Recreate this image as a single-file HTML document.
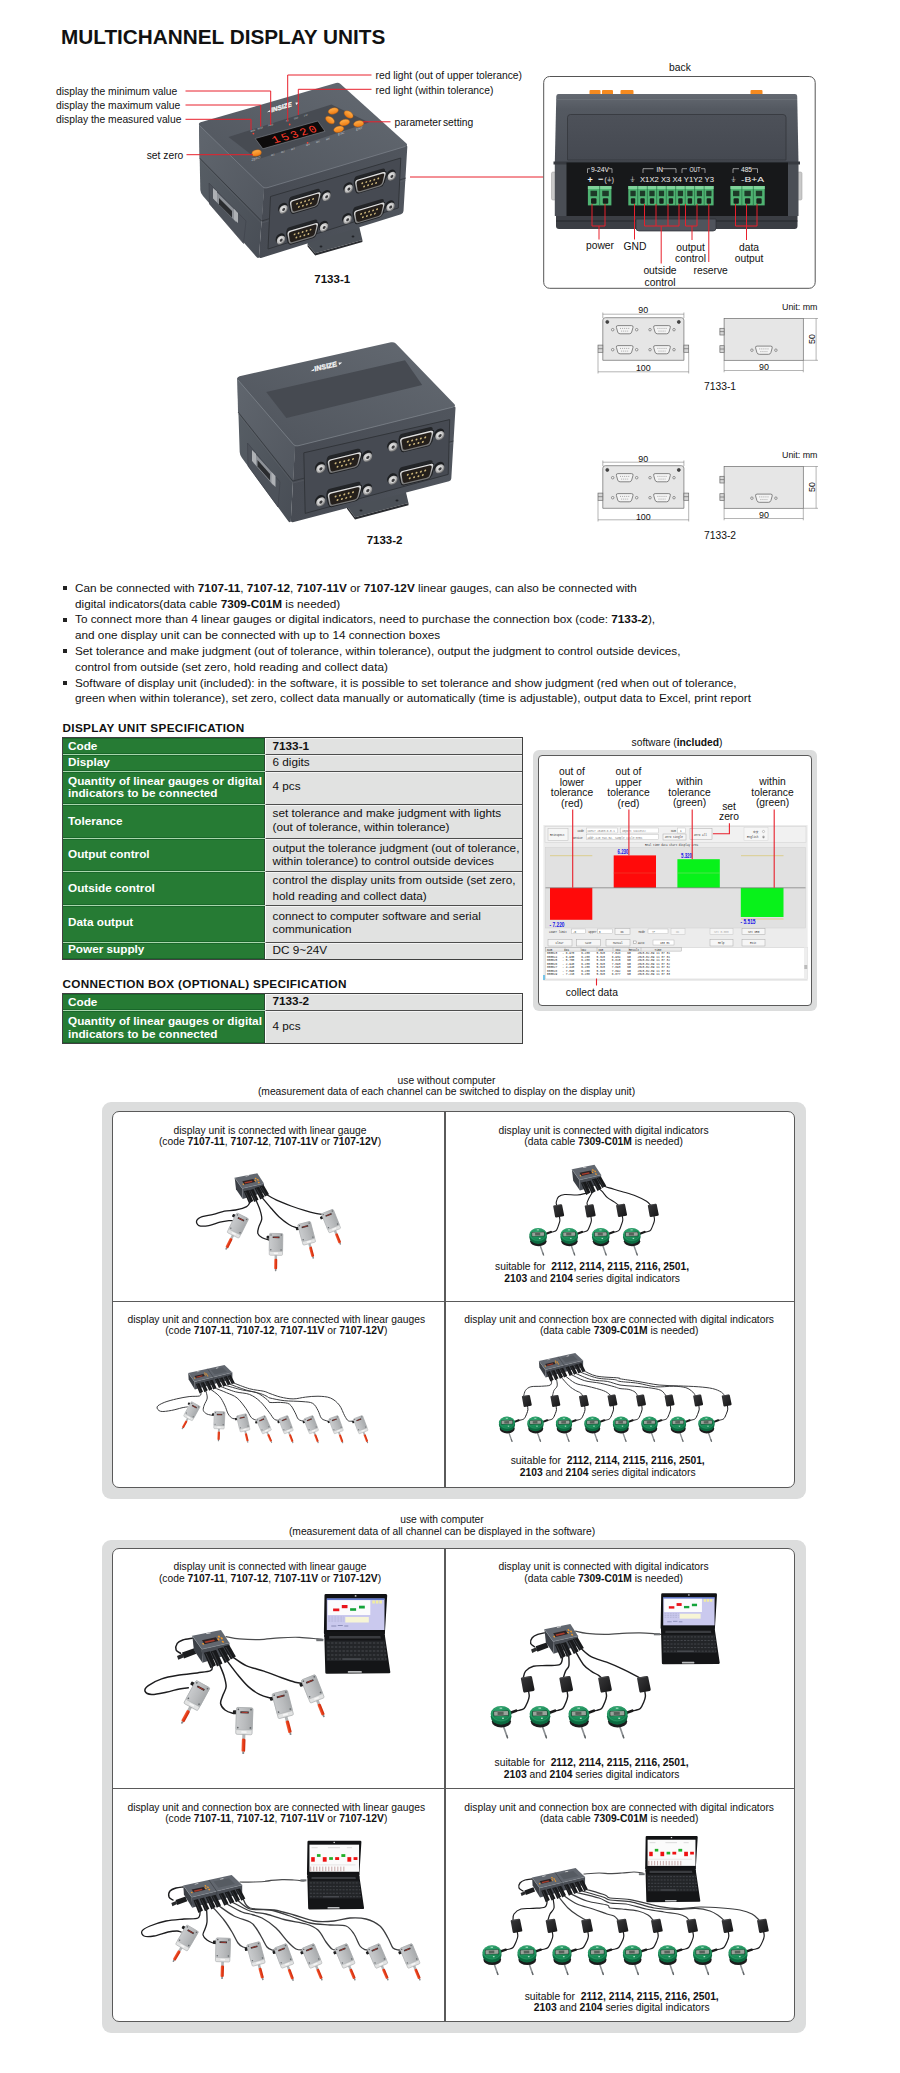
<!DOCTYPE html>
<html lang="en">
<head>
<meta charset="utf-8">
<title>Multichannel Display Units</title>
<style>
html,body{margin:0;padding:0;background:#fff;}
body{width:900px;height:2073px;position:relative;overflow:hidden;font-family:"Liberation Sans",sans-serif;color:#111;}
.abs{position:absolute;white-space:nowrap;}
h1{position:absolute;left:61px;top:24.5px;margin:0;font-size:20.75px;line-height:24px;font-weight:700;color:#111;white-space:nowrap;}
.lbl{position:absolute;white-space:nowrap;font-size:10.3px;line-height:12px;color:#111;}
.lbl.c{text-align:center;transform:translateX(-50%);}
.lbl.r{text-align:right;transform:translateX(-100%);}
b{font-weight:700;}
ul.feat{position:absolute;left:75px;top:579.8px;margin:0;padding:0;list-style:none;font-size:11.75px;line-height:15.8px;color:#111;white-space:nowrap;}
ul.feat li{position:relative;margin:0;padding:0;height:31.6px;}
ul.feat li:before{content:"";position:absolute;left:-12px;top:6.5px;width:4px;height:4px;background:#222;}
h2{position:absolute;left:62.5px;margin:0;font-size:11.75px;line-height:14px;font-weight:700;letter-spacing:.33px;color:#111;white-space:nowrap;}
table.spec{position:absolute;left:62px;width:461px;border-collapse:separate;border-spacing:0;border:1px solid #404040;font-size:11.75px;line-height:13.2px;color:#111;table-layout:fixed;}
table.spec th{width:197px;background:#267b34;color:#fff;font-weight:700;text-align:left;padding:0 0 0 5px;border-top:1px solid #a9d6ad;vertical-align:middle;white-space:nowrap;box-shadow:inset -0.8px 0 0 #2c3d31,inset 0 1px 0 #19672a,inset 0 -1px 0 #19672a;}
table.spec td{background:#e1e2e1;padding:0 0 0 6.5px;border-top:1px solid #4d4d4d;border-left:1.5px solid #fff;vertical-align:middle;white-space:nowrap;box-shadow:inset 0 1px 0 #f4f4f4;}
table.spec tr:first-child th,table.spec tr:first-child td{border-top:none;}
.frame{position:absolute;background:#dcdddd;border-radius:9px;}
.frame .inner{position:absolute;background:#fff;border:1.2px solid #5a5a5a;border-radius:7px;box-sizing:border-box;}
.hl{position:absolute;background:#5a5a5a;height:1.2px;}
.vl{position:absolute;background:#5a5a5a;width:1.2px;}
svg{position:absolute;overflow:visible;}
</style>
</head>
<body>
<h1>MULTICHANNEL DISPLAY UNITS</h1>
<svg width="0" height="0" style="left:0;top:0">
<defs>
<linearGradient id="gSil" x1="0" y1="0" x2="0" y2="1"><stop offset="0" stop-color="#e6e6e6"/><stop offset=".5" stop-color="#a9a9a9"/><stop offset="1" stop-color="#6f6f6f"/></linearGradient>
<radialGradient id="gScrew" cx=".4" cy=".35" r=".7"><stop offset="0" stop-color="#f4f4f4"/><stop offset=".6" stop-color="#b5b5b5"/><stop offset="1" stop-color="#6a6a6a"/></radialGradient>
<linearGradient id="gTop" x1="0" y1="1" x2="1" y2="0"><stop offset="0" stop-color="#4f545c"/><stop offset="1" stop-color="#646a72"/></linearGradient>
<linearGradient id="gLeft" x1="0" y1="0" x2="1" y2="1"><stop offset="0" stop-color="#42464d"/><stop offset="1" stop-color="#2e3136"/></linearGradient>
<linearGradient id="gFront" x1="0" y1="0" x2="1" y2="0"><stop offset="0" stop-color="#474b53"/><stop offset="1" stop-color="#50555d"/></linearGradient>
<linearGradient id="gOr" x1="0" y1="0" x2="0" y2="1"><stop offset="0" stop-color="#ffb04a"/><stop offset="1" stop-color="#ee7a12"/></linearGradient>
<!-- DB9 male connector with screws, local coords centred -->
<g id="db9">
<circle cx="-22.300" cy="-2" r="4.700" fill="#1e2023"/><circle cx="20.700" cy="-2" r="4.700" fill="#1e2023"/>
<path d="M-22.300,-6.700 L-21.500,-4.200 L-21.500,4.200 L-25.500,1 Z M20.700,-6.700 L21.500,-4.200 L21.500,4.200 L17,1 Z" fill="#1e2023"/>
<circle cx="-21.500" cy="0" r="4.200" fill="url(#gScrew)"/><circle cx="-21.500" cy="0" r="2.500" fill="#d9d9d9"/><circle cx="-21.300" cy=".2" r="1.500" fill="#3b3b3d"/>
<circle cx="21.500" cy="0" r="4.200" fill="url(#gScrew)"/><circle cx="21.500" cy="0" r="2.500" fill="#d9d9d9"/><circle cx="21.700" cy=".2" r="1.500" fill="#3b3b3d"/>
<path d="M-13.800,-10.600 L11.400,-10.600 Q14.900,-10.600 14.400,-7.300 L16.400,-3.600 L14.800,4.500 L-14.600,4.500 L-16.600,-3.600 Q-17.200,-10.600 -13.800,-10.600 Z" fill="#232528"/>
<path d="M-12.800,-7.600 L12.800,-7.600 Q16.700,-7.600 16,-4 L14.300,4.400 Q13.700,7.600 10.600,7.600 L-10.600,7.600 Q-13.700,7.600 -14.300,4.400 L-16,-4 Q-16.700,-7.600 -12.800,-7.600 Z" fill="#1f2124"/>
<path d="M-12.500,-6.800 L12.500,-6.800 Q15.800,-6.800 15.200,-3.600 L13.600,4 Q13,6.800 10.200,6.800 L-10.200,6.800 Q-13,6.800 -13.600,4 L-15.200,-3.600 Q-15.800,-6.800 -12.500,-6.800 Z" fill="url(#gSil)"/>
<path d="M-11.700,-5.500 L11.700,-5.500 Q14.300,-5.500 13.800,-3.200 L12.400,3.400 Q11.900,5.500 9.700,5.500 L-9.700,5.500 Q-11.900,5.500 -12.400,3.400 L-13.800,-3.200 Q-14.300,-5.500 -11.700,-5.500 Z" fill="#241f1b"/>
<g fill="#cdb77c"><circle cx="-8" cy="-1.700" r=".95"/><circle cx="-4" cy="-1.700" r=".95"/><circle cx="0" cy="-1.700" r=".95"/><circle cx="4" cy="-1.700" r=".95"/><circle cx="8" cy="-1.700" r=".95"/><circle cx="-6" cy="2.100" r=".95"/><circle cx="-2" cy="2.100" r=".95"/><circle cx="2" cy="2.100" r=".95"/><circle cx="6" cy="2.100" r=".95"/></g>
</g>
</defs>
</svg>
<!-- 7133-1 product illustration -->
<svg width="540" height="320" viewBox="0 0 540 320" style="left:0;top:0">
<defs><linearGradient id="gLeftL" x1="0" y1="0" x2="1" y2="1"><stop offset="0" stop-color="#596067"/><stop offset="1" stop-color="#484d55"/></linearGradient><linearGradient id="gLeftU" x1="0" y1="0" x2="1" y2="1"><stop offset="0" stop-color="#60666e"/><stop offset="1" stop-color="#52575f"/></linearGradient></defs>
<!-- shadow -->
<!-- mounting tab -->
<path d="M307.600,238 L358.600,224 L362.400,240 L315.200,253.300 L307.600,244.400 Z" fill="#4b5057"/>
<path d="M307.600,244.400 L315.200,253.300 L362.400,240 L362.400,242 L315.200,255.400 L307.600,246.400 Z" fill="#2a2c30"/>
<ellipse cx="321" cy="246.500" rx="1.400" ry=".9" fill="#222428"/><ellipse cx="353" cy="236.500" rx="1.400" ry=".9" fill="#222428"/>
<!-- left face -->
<path d="M199,124 L264,187.500 L259,257.500 Q258,258.500 256.500,257 L203,196 Q200.500,193 200.300,190 Z" fill="url(#gLeftL)"/>
<path d="M209,183 L246,221 L243.500,243.500 L209.500,204 Z" fill="#4d525a" stroke="#3e4249" stroke-width=".6"/>
<path d="M199,123.500 L264,187.500 L261.600,221 L199.600,158 Z" fill="url(#gLeftU)"/>
<!-- front face -->
<path d="M264,187.500 L406,145 Q407.500,145.500 407.300,147 L403.500,211 Q403.300,213.500 401,214.300 L261,258 Q259,258.300 259,256.500 Z" fill="url(#gFront)"/>
<!-- seam lines -->
<path d="M199.500,158 L261.500,221 L406,178" fill="none" stroke="#2c2f34" stroke-width=".9" opacity=".75"/>
<path d="M199.800,160 L261.400,223 L406,180" fill="none" stroke="#6a6f77" stroke-width=".6" opacity=".5"/>
<!-- top face -->
<path d="M200.600,122.300 L336,83 Q338.500,82.300 340.500,84 L406.500,143.500 Q408,145.500 405.500,146.400 L267,187.800 Q264.500,188.500 262.500,186.700 L199.300,125.300 Q198,123.200 200.600,122.300 Z" fill="url(#gTop)"/>
<path d="M199.300,125.300 L262.500,186.700 Q264.500,188.500 267,187.800 L405.500,146.400" fill="none" stroke="#7d838b" stroke-width="1" opacity=".7"/>
<!-- top inset panel -->
<path d="M228.500,137 L331.500,104.500 L369,122.500 L257.500,159.500 Z" fill="#474b52"/>
<!-- LED window -->
<path d="M255.200,138.500 L317.800,121 L325,131.300 L262.800,148.800 Z" fill="#0d0b0b" stroke="#777b82" stroke-width=".7"/>
<text transform="matrix(1,-0.28,0.5,0.82,274.300,143.600)" font-family="Liberation Mono,monospace" font-weight="400" font-size="11.500" letter-spacing="2.300" fill="#ff3a2a">15320</text>
<!-- logo -->
<text transform="matrix(1,-0.3,0.2,0.95,271.500,112.300)" font-family="Liberation Sans,sans-serif" font-style="italic" font-weight="700" font-size="6.400" fill="#f2f2f2" stroke="#f2f2f2" stroke-width=".35">INSIZE</text>
<path d="M267,112.300 l3.400,-2.600 l0,2 z M295.500,102.400 l3.600,.2 l-3,2.300 z" fill="#f2f2f2"/>
<!-- tiny labels -->
<g font-family="Liberation Sans,sans-serif" font-size="2.600" fill="#c9ccd1">
<text transform="matrix(1,-0.3,0,1,250.500,132.300)">MIN</text><text transform="matrix(1,-0.3,0,1,257.500,129.800)">MAX</text><text transform="matrix(1,-0.3,0,1,268,126.600)">ABS</text>
<text transform="matrix(1,-0.3,0,1,286,122)">HI</text><text transform="matrix(1,-0.3,0,1,294,119.500)">GO</text><text transform="matrix(1,-0.3,0,1,304,116.700)">LO</text>
<text transform="matrix(1,-0.3,0,1,271,156.200)">M1</text><text transform="matrix(1,-0.3,0,1,281,153.300)">M2</text><text transform="matrix(1,-0.3,0,1,291,150.400)">M3</text>
<text transform="matrix(1,-0.3,0,1,306,146.200)">M4</text><text transform="matrix(1,-0.3,0,1,316,143.300)">M5</text><text transform="matrix(1,-0.3,0,1,326,140.500)">M6</text>
<text transform="matrix(1,-0.3,0,1,251.500,161)" font-size="3.200">ZERO</text><text transform="matrix(1,-0.3,0,1,338,135.500)" font-size="3.200">ESC</text><text transform="matrix(1,-0.3,0,1,356,130.700)" font-size="3.200">ENT</text>
</g>
<circle cx="253.400" cy="133.600" r=".9" fill="#ff4433"/><circle cx="289.700" cy="124.500" r=".9" fill="#ff4433"/><circle cx="307.600" cy="142.800" r=".9" fill="#ff4433"/>
<!-- orange keys -->
<g fill="url(#gOr)" stroke="#b5570a" stroke-width=".4">
<ellipse cx="333.300" cy="111" rx="5.200" ry="3.100" transform="rotate(-14 333.300 111)"/>
<ellipse cx="348.600" cy="114.500" rx="5" ry="3.100" transform="rotate(32 348.600 114.500)"/>
<ellipse cx="330" cy="120" rx="5" ry="3.100" transform="rotate(36 330 120)"/>
<ellipse cx="344.600" cy="122.500" rx="5.200" ry="3.100" transform="rotate(-14 344.600 122.500)"/>
<ellipse cx="358.700" cy="123.800" rx="5.200" ry="3.100" transform="rotate(-10 358.700 123.800)"/>
<ellipse cx="338.800" cy="129.300" rx="5.200" ry="3.100" transform="rotate(-14 338.800 129.300)"/>
<ellipse cx="256.600" cy="153" rx="4.800" ry="3.100" transform="rotate(-14 256.600 153)"/>
</g>
<!-- front inset panel -->
<path d="M270.500,196.500 L400.800,158 L398.300,208 L268,249 Z" fill="#464a52" stroke="#2f3237" stroke-width=".9"/>
<!-- side connector (left face) -->
<path d="M214.500,190 L236,211 L236,222 L214.500,200 Z" fill="#8e9298"/>
<path d="M219,198 L232,211 L232,217.500 L219,204.500 Z" fill="#2a2c2f"/>
<path d="M213,188 L217,191.500 L217,202 L213,198.500 Z M234,209 L238,213 L238,223 L234,219.500 Z" fill="#aeb1b5"/>
<!-- DB9 connectors -->
<use href="#db9" transform="matrix(1,-0.295,-0.05,1,305,203)"/>
<use href="#db9" transform="matrix(1,-0.295,-0.05,1,370.200,182.600)"/>
<use href="#db9" transform="matrix(1,-0.295,-0.05,1,302.500,233.700)"/>
<use href="#db9" transform="matrix(1,-0.295,-0.05,1,369,213.300)"/>
<!-- leader lines -->
<g fill="none" stroke="#e8202c" stroke-width="1">
<path d="M185.500,91 H270.700 V125"/>
<path d="M185.500,105 H260.700 V126.500"/>
<path d="M185.500,119.300 H251 V130"/>
<path d="M186.500,154.700 H253"/>
<path d="M371.500,75 H287.700 V121.500"/>
<path d="M371.500,89.300 H298.300 V115"/>
<path d="M363,121.800 H390.500"/>
<path d="M410,177 H543.500"/>
</g>
</svg>
<div class="lbl" style="left:56px;top:85.5px">display the minimum value</div>
<div class="lbl" style="left:56px;top:99.5px">display the maximum value</div>
<div class="lbl" style="left:56px;top:113.8px">display the measured value</div>
<div class="lbl" style="left:146.700px;top:149.5px">set zero</div>
<div class="lbl" style="left:375.500px;top:69.8px">red light (out of upper tolerance)</div>
<div class="lbl" style="left:375.500px;top:85.10px">red light (within tolerance)</div>
<div class="lbl" style="left:394.500px;top:116.5px;word-spacing:-1.4px">parameter setting</div>
<div class="lbl" style="left:314.3px;top:272.5px;font-weight:700;font-size:11.5px">7133-1</div>
<!-- back view -->
<div class="lbl c" style="left:680px;top:62px">back</div>
<svg width="360" height="260" viewBox="540 50 360 260" style="left:540px;top:50px">
<defs>
<linearGradient id="gBk1" x1="0" y1="0" x2="0" y2="1"><stop offset="0" stop-color="#646971"/><stop offset=".22" stop-color="#545961"/><stop offset="1" stop-color="#4a4e56"/></linearGradient>
<linearGradient id="gBk2" x1="0" y1="0" x2="0" y2="1"><stop offset="0" stop-color="#4d5159"/><stop offset="1" stop-color="#454951"/></linearGradient>
<g id="term"><rect x="-4.300" y="-9.700" width="8.600" height="19.400" fill="#4fb372"/><rect x="-4.300" y="-9.700" width="8.600" height="3" fill="#7fd39a"/><rect x="-2.400" y="-5" width="4.800" height="5.500" fill="#1d3a28"/><rect x="-2" y="2.500" width="4" height="5.500" rx=".8" fill="#17211b"/></g>
</defs>
<rect x="543.700" y="76.500" width="271.500" height="211.800" rx="6" fill="#fff" stroke="#555" stroke-width="1"/>
<!-- side DIN clips -->
<rect x="551.500" y="172" width="5" height="28" rx="1.500" fill="#c9c9c9" stroke="#9a9a9a" stroke-width=".5"/>
<rect x="797" y="172" width="5" height="28" rx="1.500" fill="#c9c9c9" stroke="#9a9a9a" stroke-width=".5"/>
<!-- orange keys -->
<rect x="589.500" y="90" width="11" height="5" rx="1" fill="#f58a1f"/><rect x="602" y="90" width="11" height="5" rx="1" fill="#f58a1f"/><rect x="620.500" y="90" width="13" height="5" rx="1" fill="#f58a1f"/><rect x="750.500" y="90" width="12" height="5" rx="1" fill="#f58a1f"/>
<!-- upper cover -->
<path d="M558.500,94 H795 Q797,94 797.200,96 L798.500,163 H554.800 L556.300,96 Q556.500,94 558.500,94 Z" fill="url(#gBk1)"/>
<path d="M556.500,99.500 H797" stroke="#6d737b" stroke-width="1" fill="none" opacity=".8"/>
<path d="M570.500,114.500 H783 Q786,114.500 786,117.500 V160 H567.500 V117.500 Q567.500,114.500 570.500,114.500 Z" fill="url(#gBk2)" stroke="#33363b" stroke-width=".8"/>
<!-- lower body -->
<path d="M554.800,163 H798.500 V216 H554.800 Z" fill="#4a4e55"/>
<path d="M553.500,161.500 H800 V164.500 H553.500 Z" fill="#373a40"/>
<rect x="566.500" y="162.500" width="221.500" height="53.500" fill="#17181a"/>
<!-- base -->
<path d="M556,216 H797.500 V226 Q797.500,229 794.500,229 H559 Q556,229 556,226 Z" fill="#3b3e44"/>
<path d="M556,221 H797.500" stroke="#24262a" stroke-width="1.200"/>
<path d="M636,219 H716 V228 Q716,231 713,231 H639 Q636,231 636,228 Z" fill="#50545c" stroke="#2c2e33" stroke-width=".7"/>
<!-- terminals -->
<use href="#term" transform="translate(593.77,195.7) scale(1.366,1)"/><use href="#term" transform="translate(605.52,195.7) scale(1.366,1)"/><path d="M599.65,186 V205.4" stroke="#2d7a4b" stroke-width=".7" fill="none"/>
<use href="#term" transform="translate(633.04,195.7) scale(1.102,1)"/><use href="#term" transform="translate(642.52,195.7) scale(1.102,1)"/><use href="#term" transform="translate(651.99,195.7) scale(1.102,1)"/><use href="#term" transform="translate(661.47,195.7) scale(1.102,1)"/><use href="#term" transform="translate(670.95,195.7) scale(1.102,1)"/><use href="#term" transform="translate(680.43,195.7) scale(1.102,1)"/><use href="#term" transform="translate(689.91,195.7) scale(1.102,1)"/><use href="#term" transform="translate(699.38,195.7) scale(1.102,1)"/><use href="#term" transform="translate(708.86,195.7) scale(1.102,1)"/><path d="M637.78,186 V205.4 M647.26,186 V205.4 M656.73,186 V205.4 M666.21,186 V205.4 M675.69,186 V205.4 M685.17,186 V205.4 M694.64,186 V205.4 M704.12,186 V205.4" stroke="#2d7a4b" stroke-width=".7" fill="none"/>
<use href="#term" transform="translate(736.20,195.7) scale(1.326,1)"/><use href="#term" transform="translate(747.60,195.7) scale(1.326,1)"/><use href="#term" transform="translate(759.00,195.7) scale(1.326,1)"/><path d="M741.90,186 V205.4 M753.30,186 V205.4" stroke="#2d7a4b" stroke-width=".7" fill="none"/>
<!-- silk-screen text -->
<g font-family="Liberation Sans,sans-serif" fill="#f0f0f0" font-size="7.300">
<text x="591" y="171.500" font-size="6.600" textLength="18" lengthAdjust="spacingAndGlyphs">9-24V</text>
<text x="587.500" y="182.500" font-size="9" font-weight="700">+</text><text x="598" y="182" font-size="9" font-weight="700">−</text><text x="604.500" y="181.800" font-size="6.500">(⏚)</text>
<text x="656.500" y="171.500" font-size="6.600">IN</text>
<text x="629.500" y="182" font-size="7">⏚</text>
<text x="640" y="182.300" textLength="74" lengthAdjust="spacingAndGlyphs">X1X2 X3 X4 Y1Y2 Y3</text>
<text x="689.500" y="171.500" font-size="6.600" textLength="11" lengthAdjust="spacingAndGlyphs">OUT</text>
<text x="741" y="171.500" font-size="6.600">485</text>
<text x="731" y="182" font-size="7">⏚</text>
<text x="741" y="182.300" textLength="23" lengthAdjust="spacingAndGlyphs">-B+A</text>
</g>
<g fill="none" stroke="#e8e8e8" stroke-width=".6">
<path d="M587.500,173 V168.700 H590 M609,168.700 H612 V173"/>
<path d="M643,173 V168.700 H653.500 M662.500,168.700 H676 V173"/>
<path d="M682,173 V168.700 H687 M701,168.700 H705 V173"/>
<path d="M733,173 V168.700 H739 M751.500,168.700 H757.500 V173"/>
</g>
<!-- leaders -->
<g fill="none" stroke="#e8202c" stroke-width="1">
<path d="M592,204 V226 H605 V204 M599,226 V239.500"/>
<path d="M634.500,204 V239.500"/>
<path d="M644.500,204 V226 H679 V204 M656,204 V226 M668,204 V226 M661.200,226 V263.500"/>
<path d="M685.500,204 V226 H697 V204 M692,226 V240"/>
<path d="M708.800,204 V262"/>
<path d="M735.500,204 V226 H757 V204 M746.500,204 V240"/>
</g>
</svg>
<div class="lbl c" style="left:600px;top:239.90px">power</div>
<div class="lbl" style="left:623.500px;top:241.40px">GND</div>
<div class="lbl c" style="left:690.500px;top:241.70px;line-height:11.700px">output<br>control</div>
<div class="lbl c" style="left:749px;top:241.70px;line-height:11.700px">data<br>output</div>
<div class="lbl c" style="left:660px;top:265.00px;line-height:11.500px">outside<br>control</div>
<div class="lbl" style="left:693.500px;top:264.80px">reserve</div>
<!-- 7133-2 product illustration -->
<svg width="300" height="240" viewBox="200 320 300 240" style="left:200px;top:320px">
<defs>
<linearGradient id="gTop2" x1="0" y1="1" x2="1" y2="0"><stop offset="0" stop-color="#4f545c"/><stop offset="1" stop-color="#646a72"/></linearGradient>
</defs>
<!-- mounting tab -->
<path d="M347,500 L404.500,486 L408.500,503 L355,517.300 L347,506.500 Z" fill="#4b5057"/>
<path d="M347,506.500 L355,517.300 L408.500,503 L408.500,505.200 L355,519.600 L347,508.700 Z" fill="#2a2c30"/>
<ellipse cx="361" cy="510.500" rx="1.500" ry=".9" fill="#222428"/><ellipse cx="397" cy="500.500" rx="1.500" ry=".9" fill="#222428"/>
<!-- left face -->
<path d="M237.300,378 L295,445.500 L290.800,521.500 Q290,523 288.500,521.500 L242,458 Q239.800,455 239.700,452 Z" fill="url(#gLeftL)"/>
<path d="M247.500,443 L280,482 L278,507 L248,466 Z" fill="#4d525a" stroke="#3e4249" stroke-width=".6"/>
<path d="M237.300,377.500 L295,445.500 L292.800,481 L238,412 Z" fill="url(#gLeftU)"/>
<!-- front face -->
<path d="M295,445.500 L454,406.300 Q455.600,406.500 455.500,408 L451.300,478.500 Q451.200,480.500 449,481.200 L292.800,522.300 Q290.800,522.500 290.800,520.500 Z" fill="url(#gFront)"/>
<path d="M238,412 L292.800,481 L453.500,441" fill="none" stroke="#2c2f34" stroke-width=".9" opacity=".75"/>
<path d="M238.200,414 L292.700,483 L453.500,443" fill="none" stroke="#6a6f77" stroke-width=".6" opacity=".5"/>
<!-- top face -->
<path d="M239.500,376.200 L391,342.300 Q393.800,341.700 395.800,343.500 L454.500,404.300 Q456,406.300 453.300,407 L298,445.800 Q295.300,446.500 293.500,444.500 L238,380 Q236.300,377.300 239.500,376.200 Z" fill="url(#gTop2)"/>
<path d="M238,380 L293.500,444.500 Q295.300,446.500 298,445.800 L453.300,407" fill="none" stroke="#7d838b" stroke-width="1" opacity=".8"/>
<path d="M266.200,392 L405,360.300 L422.200,385 L286.400,418 Z" fill="#464a51"/>
<text transform="matrix(1,-0.23,0.3,0.95,315,371.300)" font-family="Liberation Sans,sans-serif" font-style="italic" font-weight="700" font-size="7" fill="#f2f2f2" stroke="#f2f2f2" stroke-width=".35">INSIZE</text>
<path d="M310.500,371.300 l3.600,-2.600 l0,2.100 z M338.500,362.400 l3.800,.2 l-3.200,2.300 z" fill="#f2f2f2"/>
<!-- front inset -->
<path d="M303.800,452.800 L449.700,419.600 L448.200,474.400 L305.200,513.400 Z" fill="#464a52" stroke="#2f3237" stroke-width=".9"/>
<!-- side connector -->
<path d="M253.500,452 L273.500,474 L273.500,485.500 L253.500,463 Z" fill="#8e9298"/>
<path d="M257.500,460 L270,474 L270,480.500 L257.500,466.500 Z" fill="#2a2c2f"/>
<path d="M252,450 L256,454 L256,465 L252,461 Z M271.500,472 L275.500,476 L275.500,487 L271.500,483 Z" fill="#aeb1b5"/>
<!-- connectors -->
<use href="#db9" transform="matrix(1.09,-0.265,-0.06,1.05,344.200,463)"/>
<use href="#db9" transform="matrix(1.09,-0.265,-0.06,1.05,416.400,441.300)"/>
<use href="#db9" transform="matrix(1.09,-0.265,-0.06,1.05,344.200,496.200)"/>
<use href="#db9" transform="matrix(1.09,-0.265,-0.06,1.05,416.400,474.500)"/>
</svg>
<div class="lbl" style="left:366.7px;top:534.2px;font-weight:700;font-size:11.5px">7133-2</div>
<!-- dimension drawing 7133-1 -->
<svg width="260" height="110" viewBox="580 295.00 260 110" style="left:580px;top:295.00px">
<g fill="none" stroke="#6a6a6a" stroke-width=".7">
<path d="M602.8,360.30 V320.20 Q602.8,317.70 605.3,317.70 H681.4 Q683.9,317.70 683.9,320.20 V360.30 Z" fill="#e6e6e6"/>
<rect x="598" y="345.10" width="4.800" height="7.200" fill="#d8d8d8"/><rect x="683.900" y="345.10" width="4.800" height="7.200" fill="#d8d8d8"/>
<path d="M598,348.70 H602.8 M683.9,348.70 H688.7"/>
<path d="M602.8,314.20 H683.9 M602.8,312.50 V318.00 M683.9,312.50 V318.00" stroke-width=".5"/>
<path d="M598,371.80 H688.7 M598,352.30 V373.50 M688.7,352.30 V373.50" stroke-width=".5"/>
<rect x="724.100" y="318.50" width="79.200" height="41.800" fill="#e6e6e6"/>
<rect x="719.900" y="328.30" width="4.200" height="6.700" fill="#d8d8d8"/><rect x="719.900" y="345.70" width="4.200" height="6.700" fill="#d8d8d8"/>
<path d="M719.9,331.60 H724.1 M719.9,349.00 H724.1"/>
<path d="M803.3,318.50 H818 M803.3,360.30 H818 M816.1,318.50 V360.30" stroke-width=".5"/>
<path d="M724.1,360.30 V372.30 M803.3,360.30 V372.30 M724.1,370.50 H803.3" stroke-width=".5"/>
<path d="M617.90,325.60 h13.6 q2,0 1.500,1.800 l-1.300,4.600 q-.5,1.800 -2.400,1.800 h-9.200 q-1.900,0 -2.400,-1.800 l-1.300,-4.600 q-.5,-1.800 1.500,-1.800 z" fill="#f3f3f3" stroke-width=".8"/><path d="M620.20,328.40 h9 M621.30,331.10 h6.800" stroke-width=".7" stroke-dasharray=".8 1.250"/><circle cx="612.70" cy="329.70" r="1.250" fill="#f3f3f3"/><circle cx="636.70" cy="329.70" r="1.250" fill="#f3f3f3"/>
<path d="M655.20,325.60 h13.6 q2,0 1.500,1.800 l-1.300,4.600 q-.5,1.800 -2.400,1.800 h-9.200 q-1.900,0 -2.400,-1.800 l-1.300,-4.600 q-.5,-1.800 1.500,-1.800 z" fill="#f3f3f3" stroke-width=".8"/><path d="M657.50,328.40 h9 M658.60,331.10 h6.800" stroke-width=".7" stroke-dasharray=".8 1.250"/><circle cx="650.00" cy="329.70" r="1.250" fill="#f3f3f3"/><circle cx="674.00" cy="329.70" r="1.250" fill="#f3f3f3"/>
<path d="M617.90,345.60 h13.6 q2,0 1.500,1.800 l-1.300,4.600 q-.5,1.800 -2.400,1.800 h-9.200 q-1.900,0 -2.400,-1.800 l-1.300,-4.600 q-.5,-1.800 1.500,-1.800 z" fill="#f3f3f3" stroke-width=".8"/><path d="M620.20,348.40 h9 M621.30,351.10 h6.800" stroke-width=".7" stroke-dasharray=".8 1.250"/><circle cx="612.70" cy="349.70" r="1.250" fill="#f3f3f3"/><circle cx="636.70" cy="349.70" r="1.250" fill="#f3f3f3"/>
<path d="M655.20,345.60 h13.6 q2,0 1.500,1.800 l-1.300,4.600 q-.5,1.800 -2.400,1.800 h-9.200 q-1.900,0 -2.400,-1.800 l-1.300,-4.600 q-.5,-1.800 1.500,-1.800 z" fill="#f3f3f3" stroke-width=".8"/><path d="M657.50,348.40 h9 M658.60,351.10 h6.800" stroke-width=".7" stroke-dasharray=".8 1.250"/><circle cx="650.00" cy="349.70" r="1.250" fill="#f3f3f3"/><circle cx="674.00" cy="349.70" r="1.250" fill="#f3f3f3"/>
<path d="M757.10,346.10 h13.6 q2,0 1.500,1.800 l-1.300,4.600 q-.5,1.800 -2.400,1.800 h-9.200 q-1.900,0 -2.400,-1.800 l-1.300,-4.600 q-.5,-1.800 1.500,-1.800 z" fill="#f3f3f3" stroke-width=".8"/><path d="M759.40,348.90 h9 M760.50,351.60 h6.800" stroke-width=".7" stroke-dasharray=".8 1.250"/><circle cx="751.90" cy="350.20" r="1.250" fill="#f3f3f3"/><circle cx="775.90" cy="350.20" r="1.250" fill="#f3f3f3"/>
<circle cx="607.300" cy="321.90" r="1.500" fill="#444" stroke="#333"/><circle cx="678.800" cy="321.90" r="1.500" fill="#444" stroke="#333"/>
</g>
</svg>
<div class="lbl c" style="left:643.3px;top:304.3px;font-size:8.9px">90</div>
<div class="lbl c" style="left:643.3px;top:362.2px;font-size:8.9px">100</div>
<div class="lbl c" style="left:763.9px;top:361.1px;font-size:8.9px">90</div>
<div class="lbl " style="left:782.0px;top:300.8px;font-size:8.9px">Unit: mm</div>
<div class="lbl" style="left:811.900px;top:339.0px;transform:translate(-50%,-50%) rotate(-90deg);font-size:8.9px">50</div>
<div class="lbl c" style="left:720.0px;top:381.1px;">7133-1</div>
<!-- dimension drawing 7133-2 -->
<svg width="260" height="110" viewBox="580 443.30 260 110" style="left:580px;top:443.30px">
<g fill="none" stroke="#6a6a6a" stroke-width=".7">
<path d="M602.8,508.60 V468.50 Q602.8,466.00 605.3,466.00 H681.4 Q683.9,466.00 683.9,468.50 V508.60 Z" fill="#e6e6e6"/>
<rect x="598" y="493.40" width="4.800" height="7.200" fill="#d8d8d8"/><rect x="683.900" y="493.40" width="4.800" height="7.200" fill="#d8d8d8"/>
<path d="M598,497.00 H602.8 M683.9,497.00 H688.7"/>
<path d="M602.8,462.50 H683.9 M602.8,460.80 V466.30 M683.9,460.80 V466.30" stroke-width=".5"/>
<path d="M598,520.10 H688.7 M598,500.60 V521.80 M688.7,500.60 V521.80" stroke-width=".5"/>
<rect x="724.100" y="466.80" width="79.200" height="41.800" fill="#e6e6e6"/>
<rect x="719.900" y="476.60" width="4.200" height="6.700" fill="#d8d8d8"/><rect x="719.900" y="494.00" width="4.200" height="6.700" fill="#d8d8d8"/>
<path d="M719.9,479.90 H724.1 M719.9,497.30 H724.1"/>
<path d="M803.3,466.80 H818 M803.3,508.60 H818 M816.1,466.80 V508.60" stroke-width=".5"/>
<path d="M724.1,508.60 V520.60 M803.3,508.60 V520.60 M724.1,518.80 H803.3" stroke-width=".5"/>
<path d="M617.90,473.90 h13.6 q2,0 1.500,1.800 l-1.300,4.600 q-.5,1.800 -2.400,1.800 h-9.200 q-1.900,0 -2.400,-1.800 l-1.300,-4.600 q-.5,-1.800 1.500,-1.800 z" fill="#f3f3f3" stroke-width=".8"/><path d="M620.20,476.70 h9 M621.30,479.40 h6.800" stroke-width=".7" stroke-dasharray=".8 1.250"/><circle cx="612.70" cy="478.00" r="1.250" fill="#f3f3f3"/><circle cx="636.70" cy="478.00" r="1.250" fill="#f3f3f3"/>
<path d="M655.20,473.90 h13.6 q2,0 1.500,1.800 l-1.300,4.600 q-.5,1.800 -2.400,1.800 h-9.200 q-1.900,0 -2.400,-1.800 l-1.300,-4.600 q-.5,-1.800 1.500,-1.800 z" fill="#f3f3f3" stroke-width=".8"/><path d="M657.50,476.70 h9 M658.60,479.40 h6.800" stroke-width=".7" stroke-dasharray=".8 1.250"/><circle cx="650.00" cy="478.00" r="1.250" fill="#f3f3f3"/><circle cx="674.00" cy="478.00" r="1.250" fill="#f3f3f3"/>
<path d="M617.90,493.90 h13.6 q2,0 1.500,1.800 l-1.300,4.600 q-.5,1.800 -2.400,1.800 h-9.200 q-1.900,0 -2.400,-1.800 l-1.300,-4.600 q-.5,-1.800 1.500,-1.800 z" fill="#f3f3f3" stroke-width=".8"/><path d="M620.20,496.70 h9 M621.30,499.40 h6.800" stroke-width=".7" stroke-dasharray=".8 1.250"/><circle cx="612.70" cy="498.00" r="1.250" fill="#f3f3f3"/><circle cx="636.70" cy="498.00" r="1.250" fill="#f3f3f3"/>
<path d="M655.20,493.90 h13.6 q2,0 1.500,1.800 l-1.300,4.600 q-.5,1.800 -2.400,1.800 h-9.200 q-1.900,0 -2.400,-1.800 l-1.300,-4.600 q-.5,-1.800 1.500,-1.800 z" fill="#f3f3f3" stroke-width=".8"/><path d="M657.50,496.70 h9 M658.60,499.40 h6.800" stroke-width=".7" stroke-dasharray=".8 1.250"/><circle cx="650.00" cy="498.00" r="1.250" fill="#f3f3f3"/><circle cx="674.00" cy="498.00" r="1.250" fill="#f3f3f3"/>
<path d="M757.10,494.40 h13.6 q2,0 1.500,1.800 l-1.300,4.600 q-.5,1.800 -2.400,1.800 h-9.200 q-1.900,0 -2.400,-1.800 l-1.300,-4.600 q-.5,-1.800 1.500,-1.800 z" fill="#f3f3f3" stroke-width=".8"/><path d="M759.40,497.20 h9 M760.50,499.90 h6.800" stroke-width=".7" stroke-dasharray=".8 1.250"/><circle cx="751.90" cy="498.50" r="1.250" fill="#f3f3f3"/><circle cx="775.90" cy="498.50" r="1.250" fill="#f3f3f3"/>
<circle cx="607.300" cy="470.20" r="1.500" fill="#444" stroke="#333"/><circle cx="678.800" cy="470.20" r="1.500" fill="#444" stroke="#333"/>
</g>
</svg>
<div class="lbl c" style="left:643.3px;top:452.6px;font-size:8.9px">90</div>
<div class="lbl c" style="left:643.3px;top:510.5px;font-size:8.9px">100</div>
<div class="lbl c" style="left:763.9px;top:509.4px;font-size:8.9px">90</div>
<div class="lbl " style="left:782.0px;top:449.1px;font-size:8.9px">Unit: mm</div>
<div class="lbl" style="left:811.900px;top:487.3px;transform:translate(-50%,-50%) rotate(-90deg);font-size:8.9px">50</div>
<div class="lbl c" style="left:720.0px;top:529.5px;">7133-2</div>
<!-- software panel -->
<div class="lbl c" style="left:677px;top:737px">software (<b>included</b>)</div>
<div class="frame" style="left:533px;top:750px;width:284px;height:261px;border-radius:6px"><div class="inner" style="left:5px;top:5px;width:274px;height:251px;border-radius:4px"></div></div>
<div class="lbl c" style="left:572px;top:767px;line-height:10.550px">out of<br>lower<br>tolerance<br>(red)</div>
<div class="lbl c" style="left:628.500px;top:767px;line-height:10.550px">out of<br>upper<br>tolerance<br>(red)</div>
<div class="lbl c" style="left:689.500px;top:777.4px;line-height:10.550px">within<br>tolerance<br>(green)</div>
<div class="lbl c" style="left:772.500px;top:777.4px;line-height:10.550px">within<br>tolerance<br>(green)</div>
<div class="lbl c" style="left:729px;top:801.9px;line-height:10.300px">set<br>zero</div>
<div class="lbl" style="left:565.800px;top:987.300px">collect data</div>
<svg width="270" height="160" viewBox="540 822 270 160" style="left:540px;top:822px">
<rect x="543.400" y="825" width="264.200" height="156" fill="#ececec"/>
<!-- toolbar -->
<rect x="545" y="826.500" width="261" height="16" fill="#f1f1f1" stroke="#cfcfcf" stroke-width=".5"/>
<rect x="548" y="828.500" width="20" height="12" fill="#f6f6f6" stroke="#bdbdbd" stroke-width=".5"/>
<rect x="586.500" y="828" width="31" height="5" fill="#fff" stroke="#b5b5b5" stroke-width=".4"/><rect x="620.500" y="828" width="38" height="5" fill="#fff" stroke="#b5b5b5" stroke-width=".4"/>
<rect x="586.500" y="834.500" width="72" height="5" fill="#fff" stroke="#b5b5b5" stroke-width=".4"/>
<rect x="677.500" y="828" width="8" height="5" fill="#fff" stroke="#b5b5b5" stroke-width=".4"/>
<rect x="663" y="834" width="23" height="6" fill="#f6f6f6" stroke="#ababab" stroke-width=".5"/>
<rect x="690" y="828.500" width="22" height="11" fill="#f6f6f6" stroke="#ababab" stroke-width=".5"/>
<rect x="744" y="827.500" width="24" height="13" fill="#f6f6f6" stroke="#cfcfcf" stroke-width=".4"/>
<g font-family="Liberation Mono,monospace" font-size="2.700" fill="#333">
<text x="550" y="835.500">Reinspect</text><text x="577.500" y="832">Code</text><text x="573" y="838.500">Device</text>
<text x="587.500" y="832" fill="#777">COM17 20403.6.8.1</text><text x="622" y="832" fill="#777">import success!</text><text x="587.500" y="838.500" fill="#777">addr.120  Max.54. Sample cycle:57ms</text>
<text x="671" y="832">Num</text><text x="680" y="832">1</text><text x="665" y="838.300">Zero single</text><text x="694" y="835.500">Zero all</text>
<text x="753" y="832.500" font-family="Liberation Sans,Noto Sans CJK SC,sans-serif">中文</text><text x="747" y="838">English</text>
<text x="645" y="846.300">Real time data chart display area</text>
</g>
<circle cx="763.500" cy="831.500" r="1.100" fill="#fff" stroke="#777" stroke-width=".4"/><circle cx="763.500" cy="837" r="1.100" fill="#fff" stroke="#777" stroke-width=".4"/><circle cx="763.500" cy="837" r=".5" fill="#222"/>
<!-- chart -->
<rect x="545.500" y="847.500" width="260" height="80.500" fill="#e1e1e1" stroke="#d0d0d0" stroke-width=".5"/>
<path d="M550,855.700 H592.300 M741,855.700 H783.500 M741,919 H783.500" stroke="#d9c46a" stroke-width=".7"/>
<rect x="550" y="887.800" width="42.300" height="32" fill="#ff0a0a"/>
<rect x="613.700" y="855.400" width="42.300" height="32.400" fill="#ff0a0a"/>
<rect x="677.400" y="859.200" width="42.400" height="28.600" fill="#08f21a"/>
<rect x="740.800" y="887.800" width="42.700" height="29.200" fill="#08f21a"/>
<path d="M677.400,873 H719.800" stroke="#7bdc6a" stroke-width=".6"/><path d="M613.700,873 H656" stroke="#e8503a" stroke-width=".5"/>
<path d="M545.500,887.800 H805.500" stroke="#777" stroke-width=".7"/>
<g font-family="Liberation Sans,sans-serif" font-weight="700" font-size="8" fill="#1414e6">
<text x="617.500" y="853.800" textLength="11" lengthAdjust="spacingAndGlyphs">6.230</text>
<text x="681" y="857.500" textLength="11" lengthAdjust="spacingAndGlyphs">5.320</text>
<text x="549.500" y="926.500" textLength="15" lengthAdjust="spacingAndGlyphs">- 7.220</text>
<text x="740.500" y="923.500" textLength="15" lengthAdjust="spacingAndGlyphs">- 5.515</text>
</g>
<!-- lower controls -->
<g font-family="Liberation Mono,monospace" font-size="2.700" fill="#333">
<text x="549" y="932.500">Lower limit</text><rect x="571.500" y="929" width="14" height="4.800" fill="#fff" stroke="#aaa" stroke-width=".4"/><text x="573" y="932.500">-6</text>
<text x="588.500" y="932.500">Upper</text><rect x="597.500" y="929" width="15" height="4.800" fill="#fff" stroke="#aaa" stroke-width=".4"/><text x="599" y="932.500">6</text>
<rect x="615" y="928.500" width="15" height="6" fill="#f6f6f6" stroke="#aaa" stroke-width=".5"/><text x="620.500" y="932.700">OK</text>
<text x="638.500" y="932.500">Mode</text><rect x="648" y="929" width="20" height="4.800" fill="#fff" stroke="#aaa" stroke-width=".4"/><text x="652" y="932.500" fill="#888">TP</text>
<rect x="671" y="928.500" width="14" height="6" fill="#f6f6f6" stroke="#c4c4c4" stroke-width=".5"/><text x="676" y="932.700" fill="#aaa">OK</text>
<rect x="710" y="928.500" width="23" height="6" fill="#f6f6f6" stroke="#c4c4c4" stroke-width=".5"/><text x="714" y="932.700" fill="#aaa">Set 0.000</text>
<rect x="742" y="928.500" width="23" height="6" fill="#f6f6f6" stroke="#aaa" stroke-width=".5"/><text x="748" y="932.700">Set ORG</text>
<rect x="548" y="939.500" width="24" height="6.500" fill="#f6f6f6" stroke="#aaa" stroke-width=".5"/><text x="555.500" y="944">Clear</text>
<rect x="576.500" y="939.500" width="24" height="6.500" fill="#f6f6f6" stroke="#aaa" stroke-width=".5"/><text x="585" y="944">Save</text>
<rect x="606" y="939.500" width="24" height="6.500" fill="#f6f6f6" stroke="#aaa" stroke-width=".5"/><text x="613" y="944">Manual</text>
<rect x="633.500" y="941" width="2.600" height="2.600" fill="#fff" stroke="#777" stroke-width=".4"/><text x="638" y="944">Auto</text>
<rect x="653" y="940" width="21" height="5" fill="#fff" stroke="#aaa" stroke-width=".4"/><text x="660" y="944">100 ms</text>
<rect x="710" y="939.500" width="23" height="6.500" fill="#f6f6f6" stroke="#aaa" stroke-width=".5"/><text x="718" y="944">Help</text>
<rect x="742" y="939.500" width="23" height="6.500" fill="#f6f6f6" stroke="#aaa" stroke-width=".5"/><text x="750" y="944">Exit</text>
</g>
<!-- data grid -->
<rect x="545.500" y="947.500" width="262" height="31.500" fill="#fff" stroke="#c8c8c8" stroke-width=".5"/>
<rect x="545.500" y="947.500" width="136" height="3.600" fill="#ececec" stroke="#999" stroke-width=".4"/>
<path d="M565,947.500 v3.600 M581,947.500 v3.600 M597,947.500 v3.600 M613,947.500 v3.600 M629,947.500 v3.600 M641,947.500 v3.600" stroke="#999" stroke-width=".4"/>
<rect x="804" y="947.500" width="3.500" height="31.500" fill="#eee"/><rect x="804.300" y="965" width="2.900" height="4" fill="#bbb"/>
<g font-family="Liberation Mono,monospace" font-size="2.850" fill="#222">
<text x="547" y="950.600">Num&#160;&#160;&#160;&#160;&#160;&#160;&#160;IO1&#160;&#160;&#160;&#160;&#160;&#160;&#160;IO2&#160;&#160;&#160;&#160;&#160;&#160;&#160;IO3&#160;&#160;&#160;&#160;&#160;&#160;&#160;IO4&#160;&#160;&#160;&#160;&#160;Result&#160;&#160;&#160;&#160;&#160;&#160;&#160;&#160;&#160;Time</text>
<text x="547" y="954.200">000023&#160;&#160;&#160;- 6.970&#160;&#160;&#160;&#160;6.230&#160;&#160;&#160;&#160;5.320&#160;&#160;&#160;&#160;7.048&#160;&#160;&#160;&#160;NG&#160;&#160;&#160;&#160;2023-02-09 11 37 31</text>
<text x="547" y="957.700">000024&#160;&#160;&#160;- 6.930&#160;&#160;&#160;&#160;6.230&#160;&#160;&#160;&#160;5.320&#160;&#160;&#160;&#160;6.934&#160;&#160;&#160;&#160;NG&#160;&#160;&#160;&#160;2023-02-09 11 37 31</text>
<text x="547" y="961.200">000025&#160;&#160;&#160;- 5.700&#160;&#160;&#160;&#160;6.230&#160;&#160;&#160;&#160;5.320&#160;&#160;&#160;&#160;6.815&#160;&#160;&#160;&#160;NG&#160;&#160;&#160;&#160;2023-02-09 11 37 32</text>
<text x="547" y="964.700">000026&#160;&#160;&#160;- 2.940&#160;&#160;&#160;&#160;6.230&#160;&#160;&#160;&#160;5.320&#160;&#160;&#160;&#160;7.893&#160;&#160;&#160;&#160;NG&#160;&#160;&#160;&#160;2023-02-09 11 37 32</text>
<text x="547" y="968.200">000027&#160;&#160;&#160;- 4.440&#160;&#160;&#160;&#160;6.230&#160;&#160;&#160;&#160;5.320&#160;&#160;&#160;&#160;7.893&#160;&#160;&#160;&#160;NG&#160;&#160;&#160;&#160;2023-02-09 11 37 32</text>
<text x="547" y="971.700">000028&#160;&#160;&#160;- 7.090&#160;&#160;&#160;&#160;6.230&#160;&#160;&#160;&#160;5.320&#160;&#160;&#160;&#160;7.892&#160;&#160;&#160;&#160;NG&#160;&#160;&#160;&#160;2023-02-09 11 37 32</text>
<text x="547" y="975.200">000029&#160;&#160;&#160;- 7.210&#160;&#160;&#160;&#160;6.230&#160;&#160;&#160;&#160;5.320&#160;&#160;&#160;&#160;6.877&#160;&#160;&#160;&#160;NG&#160;&#160;&#160;&#160;2023-02-09 11 37 33</text>
</g>
<rect x="543.400" y="975" width="1.200" height="5" fill="#2aa7e0"/>
</svg>
<svg width="284" height="261" viewBox="533 750 284 261" style="left:533px;top:750px">
<g fill="none" stroke="#e8202c" stroke-width="1.100">
<path d="M572.700,809.600 V887.800 M628.900,809.600 V855.400 M692.200,809.600 V859.200 M774.200,809.600 V887.800"/>
<path d="M729.400,823.300 V833.700 H712.900"/>
<path d="M596.500,978.500 V985.500"/>
</g>
</svg>
<!-- use without computer -->
<div class="lbl c" style="left:446.5px;top:1074.68px;line-height:11.50px">use without computer<br>(measurement data of each channel can be switched to display on the display unit)</div>
<div class="frame" style="left:102px;top:1102px;width:704px;height:397.200px"><div class="inner" style="left:10.200px;top:9.300px;width:683px;height:376.700px"></div><div class="vl" style="left:342.400px;top:9.300px;height:376.700px"></div><div class="hl" style="left:10.200px;top:199.300px;width:683px"></div></div>
<div class="lbl c" style="left:270.0px;top:1125.03px;line-height:11.20px">display unit is connected with linear gauge<br>(code <b>7107-11</b>, <b>7107-12</b>, <b>7107-11V</b> or <b>7107-12V</b>)</div>
<div class="lbl c" style="left:603.6px;top:1125.03px;line-height:11.20px">display unit is connected with digital indicators<br>(data cable <b>7309-C01M</b> is needed)</div>
<div class="lbl c" style="left:276.3px;top:1313.88px;line-height:11.50px">display unit and connection box are connected with linear gauges<br>(code <b>7107-11</b>, <b>7107-12</b>, <b>7107-11V</b> or <b>7107-12V</b>)</div>
<div class="lbl c" style="left:619.2px;top:1313.88px;line-height:11.50px">display unit and connection box are connected with digital indicators<br>(data cable <b>7309-C01M</b> is needed)</div>
<div class="lbl c" style="left:592.1px;top:1260.93px;line-height:12.00px">suitable for&nbsp; <b>2112, 2114, 2115, 2116, 2501,</b><br><b>2103</b> and <b>2104</b> series digital indicators</div>
<div class="lbl c" style="left:607.7px;top:1455.08px;line-height:12.10px">suitable for&nbsp; <b>2112, 2114, 2115, 2116, 2501,</b><br><b>2103</b> and <b>2104</b> series digital indicators</div>
<!-- use with computer -->
<div class="lbl c" style="left:442.0px;top:1513.98px;line-height:11.70px">use with computer<br>(measurement data of all channel can be displayed in the software)</div>
<div class="frame" style="left:102px;top:1540.400px;width:704px;height:492.700px"><div class="inner" style="left:10.200px;top:8px;width:683px;height:473.700px"></div><div class="vl" style="left:342.400px;top:8px;height:473.700px"></div><div class="hl" style="left:10.200px;top:247.600px;width:683px"></div></div>
<div class="lbl c" style="left:270.0px;top:1561.48px;line-height:11.90px">display unit is connected with linear gauge<br>(code <b>7107-11</b>, <b>7107-12</b>, <b>7107-11V</b> or <b>7107-12V</b>)</div>
<div class="lbl c" style="left:603.6px;top:1561.48px;line-height:11.90px">display unit is connected with digital indicators<br>(data cable <b>7309-C01M</b> is needed)</div>
<div class="lbl c" style="left:276.3px;top:1802.33px;line-height:11.00px">display unit and connection box are connected with linear gauges<br>(code <b>7107-11</b>, <b>7107-12</b>, <b>7107-11V</b> or <b>7107-12V</b>)</div>
<div class="lbl c" style="left:619.2px;top:1802.33px;line-height:11.00px">display unit and connection box are connected with digital indicators<br>(data cable <b>7309-C01M</b> is needed)</div>
<div class="lbl c" style="left:591.6px;top:1757.23px;line-height:11.60px">suitable for&nbsp; <b>2112, 2114, 2115, 2116, 2501,</b><br><b>2103</b> and <b>2104</b> series digital indicators</div>
<div class="lbl c" style="left:621.7px;top:1990.68px;line-height:11.70px">suitable for&nbsp; <b>2112, 2114, 2115, 2116, 2501,</b><br><b>2103</b> and <b>2104</b> series digital indicators</div>
<!-- connection diagrams -->
<svg width="900" height="1000" viewBox="0 1060 900 1000" style="left:0;top:1060px">
<defs>
<linearGradient id="dgBody" x1="0" y1="0" x2="1" y2="0"><stop offset="0" stop-color="#c9cbcd"/><stop offset=".55" stop-color="#b9bbbd"/><stop offset="1" stop-color="#a7aaac"/></linearGradient>
<radialGradient id="dgGreen" cx=".42" cy=".35" r=".75"><stop offset="0" stop-color="#38ab76"/><stop offset=".6" stop-color="#198b56"/><stop offset="1" stop-color="#0b6c41"/></radialGradient>
<linearGradient id="dgRod" x1="0" y1="0" x2="1" y2="0"><stop offset="0" stop-color="#f2603a"/><stop offset=".5" stop-color="#e63a16"/><stop offset="1" stop-color="#c92c0d"/></linearGradient>
<linearGradient id="dgAd" x1="0" y1="0" x2="1" y2="1"><stop offset="0" stop-color="#3a3a3c"/><stop offset="1" stop-color="#151516"/></linearGradient>
<!-- linear gauge -->
<g id="gauge">
<rect x="-10" y="-9" width="4" height="3.200" rx=".8" fill="#1e1e1f"/>
<rect x="-1.300" y="11" width="2.600" height="4.500" fill="#b3b6b8"/>
<rect x="-1.550" y="15" width="3.100" height="11.300" rx="1.100" fill="url(#dgRod)"/>
<rect x="-.8" y="26" width="1.600" height="2.200" rx=".5" fill="#858a8d"/>
<rect x="-7" y="-11.500" width="14" height="23" rx="1.200" fill="#e2e3e3" stroke="#9b9ea0" stroke-width=".5"/>
<rect x="-7" y="-11.500" width="14" height="19" rx="1.200" fill="url(#dgBody)" stroke="#a4a7a9" stroke-width=".4"/>
<circle cx="-5.400" cy="-9.900" r=".75" fill="#63676a"/><circle cx="5.400" cy="-9.900" r=".75" fill="#63676a"/><circle cx="-5.400" cy="5.700" r=".75" fill="#63676a"/><circle cx="5.400" cy="5.700" r=".75" fill="#63676a"/>
<rect x="-3.600" y="-8.300" width="7.200" height="1.700" fill="#3b2b2b"/><rect x="-2.600" y="-7.800" width="5.200" height=".7" fill="#b23a30"/>
<rect x="-2.200" y="8.600" width="4.400" height="1.500" fill="#f6f6f6"/>
</g>
<!-- digital indicator -->
<g id="indic">
<path d="M1.800,11.500 L6.300,24.200" stroke="#8c9093" stroke-width="1.700" stroke-linecap="round" fill="none"/>
<path d="M5.600,22 L6.500,24.600" stroke="#5d6164" stroke-width="1.100" stroke-linecap="round" fill="none"/>
<ellipse cx=".3" cy="8.300" rx="9.600" ry="5.900" fill="#1b1c1c"/>
<path d="M9.500,-.6 L15,-2.600" stroke="#1a1a1a" stroke-width="2.600" stroke-linecap="round" fill="none"/>
<ellipse cx="0" cy="3.300" rx="10.400" ry="8.100" fill="#0c6a40"/>
<ellipse cx="0" cy=".7" rx="10.400" ry="8" fill="url(#dgGreen)"/>
<ellipse cx="0" cy=".5" rx="9.300" ry="7" fill="none" stroke="#5fd09a" stroke-width=".5" opacity=".5"/>
<rect x="-7.600" y="-2.600" width="15.200" height="5.200" rx=".7" fill="#1d3a2c" transform="rotate(-2)"/>
<rect x="-7" y="-2.100" width="14" height="4.200" rx=".5" fill="#98a39a" transform="rotate(-2)"/>
<rect x="-3.500" y="-1.500" width="6" height="3" fill="#56625a" transform="rotate(-2)"/>
<rect x="-1.500" y="-5.700" width="2.600" height="1.200" fill="#bfe7d2" opacity=".85"/>
<rect x="1" y="4.300" width="1.800" height="1.400" fill="#bfe7d2" opacity=".85"/>
</g>
<!-- cable adapter box -->
<g id="adapt">
<path d="M-6.200,-5.600 Q-6.600,-6.800 -5.300,-7 L3.200,-8.400 Q4.500,-8.600 4.900,-7.400 L7.400,4.900 Q7.700,6.200 6.400,6.500 L-2.300,8.200 Q-3.600,8.400 -3.900,7.200 Z" fill="url(#dgAd)"/>
<path d="M-5.300,-6.300 L3.400,-7.700" stroke="#5a5a5d" stroke-width=".6" fill="none"/>
</g>
<!-- display unit (single) -->
<g id="unit1">
<path d="M.7,4.800 L8.200,15.400 L8.700,26.100 L2,16.300 Z" fill="#3b3f45"/>
<path d="M8.200,15.400 L30,10.600 L29.600,19.500 L8.700,26.100 Z" fill="#4a4e55"/>
<path d="M.7,4.800 L23.300,.3 L30,10.600 L8.200,15.400 Z" fill="#62676f"/>
<path d="M.7,4.800 L8.200,15.400 L30,10.600" fill="none" stroke="#858b92" stroke-width=".5"/>
<path d="M8.300,8.300 L19.300,6 L21.300,9 L10.300,11.500 Z" fill="#2b2224"/>
<path d="M10.300,9.300 L17.800,7.700 L18.600,8.900 L11.100,10.600 Z" fill="#a83b2a"/>
<path d="M20.600,5 l1.300,-.3 l.9,1.400 l-1.300,.3 z M22.800,6.300 l1.300,-.3 l.9,1.400 l-1.300,.3 z M20.200,7.200 l1.300,-.3 l.9,1.400 l-1.300,.3 z M23.700,9 l1.300,-.3 l.9,1.400 l-1.300,.3 z M8.300,10.800 l1.200,-.3 l.8,1.200 l-1.200,.3 z" fill="#f39a2b"/>
<path d="M11.500,2.900 l3.400,-.7 l.4,.6 l-3.400,.7 z" fill="#e9e9e9"/>
<g fill="#18191b">
<path d="M9.800,18.300 L14.500,17 L19.300,28 L15,30.400 Z"/>
<path d="M15,17.200 L19.500,15.900 L24.500,26.700 L20.200,29 Z"/>
<path d="M20.600,15 L25,13.800 L30.500,24 L26.300,26.400 Z"/>
<path d="M25.300,13.400 L29.800,12.200 L35,21.200 L31,23.600 Z"/>
</g>
<g stroke="#4b4e54" stroke-width=".5" fill="none"><path d="M11.400,18.700 L16.400,29.400"/><path d="M16.600,17.500 L21.700,28"/><path d="M22.200,15.400 L27.800,25.400"/><path d="M27,13.700 L32.400,22.600"/></g>
</g>
<!-- display unit + connection box -->
<g id="unit2">
<path d="M.3,10.600 L8.700,22.200 L9.200,32.800 L.9,19.400 Z" fill="#3b3f45"/>
<path d="M8.700,22.200 L59.200,10 L59.200,18.300 L9.200,32.800 Z" fill="#4a4e55"/>
<path d="M.3,10.600 L48.700,0 L59.200,10 L8.700,22.200 Z" fill="#62676f"/>
<path d="M.3,10.600 L8.700,22.200 L59.200,10" fill="none" stroke="#858b92" stroke-width=".5"/>
<path d="M25.900,5 L33.700,16.200 L33.900,25.700" fill="none" stroke="#3a3d43" stroke-width=".7"/>
<path d="M30.500,6.600 L46,3.200 L52,8.900 L35.500,12.800 Z" fill="#565b62"/>
<path d="M8.600,14.600 L20.600,11.900 L22.600,14.700 L10.800,17.600 Z" fill="#2b2224"/>
<path d="M10.800,15.600 L18.800,13.800 L19.600,15 L11.700,16.900 Z" fill="#a83b2a"/>
<path d="M21.300,10.400 l1.400,-.3 l1,1.400 l-1.400,.3 z M23.700,11.700 l1.400,-.3 l1,1.400 l-1.400,.3 z M21.600,12.700 l1.400,-.3 l1,1.400 l-1.400,.3 z M25,14 l1.400,-.3 l1,1.400 l-1.400,.3 z M7.700,17 l1.300,-.3 l.9,1.300 l-1.300,.3 z" fill="#f39a2b"/>
<path d="M11.500,9 l3.600,-.8 l.4,.6 l-3.600,.8 z M37,4 l3.200,-.7 l.4,.6 l-3.200,.7 z" fill="#e9e9e9"/>
<g fill="#18191b">
<path d="M10.500,25.300 L15,24 L20,35.500 L15.500,38 Z"/>
<path d="M16.600,23.800 L21,22.600 L26.300,33.800 L22,36.200 Z"/>
<path d="M22.700,22.200 L27.200,21 L32.600,32 L28.300,34.400 Z"/>
<path d="M28.300,20.900 L32.600,19.700 L38,30.400 L33.800,32.700 Z"/>
<path d="M35.800,19 L40.200,17.800 L45.500,28.400 L41.300,30.700 Z"/>
<path d="M41.500,17.500 L46,16.300 L51.300,26.800 L47.200,29 Z"/>
<path d="M47.300,16 L51.700,14.800 L57,25 L53,27.300 Z"/>
<path d="M52.700,14.600 L57,13.400 L62.300,23.500 L58.400,25.700 Z"/>
</g>
<g stroke="#4b4e54" stroke-width=".5" fill="none"><path d="M12.200,25.700 L17.400,36.800"/><path d="M18.300,24.200 L23.700,35"/><path d="M24.500,22.600 L30,33.300"/><path d="M30,21.300 L35.500,31.600"/><path d="M37.500,19.400 L43,29.600"/><path d="M43.300,17.900 L48.800,28"/><path d="M49,16.400 L54.600,26.200"/><path d="M54.400,15 L60,24.600"/></g>
</g>
<!-- side plug (data cable) -->
<g id="sideplug"><path d="M-9,1.500 L.5,-1.800 L2.200,2.600 L-7.500,6.300 Z" fill="#1b1c1e"/><path d="M-13,4.300 L-8.500,2.300 L-7.500,5.300 L-12,7.300 Z" fill="#2a2b2d"/></g>
<!-- laptop -->
<g id="lapbase">
<path d="M1.500,0 H61.500 Q63,0 62.900,1.500 L60.600,39 Q60.500,40.200 59.300,40.200 H.8 Q-.5,40.200 -.4,39 L.2,1.300 Q.2,0 1.500,0 Z" fill="#111214"/>
<rect x="0" y="38" width="60.500" height="5" fill="#141517"/>
<path d="M0,41 H60.500 L66,78 Q66.200,79.300 64.800,79.300 L2.500,79.800 Q1,79.800 1,78.500 Z" fill="#141517"/>
<path d="M5,42 H56 L56.500,44.500 H4.800 Z" fill="#3a3c40"/>
<path d="M1.800,46.500 H60.300 L62.500,67 H2.200 Z" fill="#232528"/>
<g stroke="#4c4f54" stroke-width=".9" stroke-dasharray="2.400 1.400" fill="none"><path d="M3,49 H61"/><path d="M3,53 H61.400"/><path d="M3,57 H61.800"/><path d="M3,61 H62.200"/><path d="M3,65 H17 M38,65 H62.500"/></g>
<path d="M18,64.300 H37 V65.800 H18 Z" fill="#4c4f54"/>
<rect x="23.500" y="77" width="14" height="1.800" rx=".5" fill="#b9bbbd"/>
<rect x="30.500" y="1.200" width="1.600" height="1.400" fill="#dcdcdc"/>
<path d="M-8,44.800 L-1,44.800 L-1,47.200 L-8,47.200 Z" fill="#6f7275"/>
</g>
<g id="lapA">
<use href="#lapbase"/>
<rect x="2.500" y="4.500" width="57.700" height="31.500" fill="#cac9ee"/>
<rect x="2.500" y="4.500" width="57.700" height="1.300" fill="#4a67c8"/>
<rect x="3.500" y="6.200" width="42.500" height="14.800" fill="#fbfbfd"/>
<rect x="8.800" y="14.500" width="6.200" height="2.700" fill="#e8141c"/><rect x="17.500" y="11" width="5.700" height="3.200" fill="#e8141c"/><rect x="25.800" y="14.200" width="6" height="2.600" fill="#13a33a"/><rect x="34.700" y="11.700" width="5.800" height="2.800" fill="#13a33a"/>
<rect x="21" y="23" width="23.500" height="5.500" fill="#f7f5d6"/>
<path d="M4,23 H20 M4,25 H20 M4,27 H20" stroke="#9d9fc0" stroke-width=".5" stroke-dasharray="2 1"/>
<rect x="48" y="6.500" width="2.600" height="3" fill="#f1eda0"/><rect x="51.500" y="6.500" width="2.600" height="3" fill="#f1eda0"/><rect x="55" y="6.500" width="2.600" height="3" fill="#f1eda0"/>
<path d="M7,32 H12 M13.500,31.500 H18.500 M20,32 H24" stroke="#7b7ea8" stroke-width=".8"/>
</g>
<g id="lapB">
<use href="#lapbase"/>
<rect x="2.500" y="4.500" width="57.700" height="31.500" fill="#fbfbfb"/>
<g fill="#ee1111"><rect x="4.500" y="19" width="4.200" height="5.300"/><rect x="18" y="19" width="4.500" height="5.300"/><rect x="32.400" y="19" width="4.600" height="3.300"/><rect x="46.600" y="19" width="4.500" height="5.300"/><rect x="53.800" y="19" width="4.500" height="3.300"/></g>
<g fill="#22b02a"><rect x="11.200" y="15.500" width="4.200" height="3.200"/><rect x="25.400" y="19" width="4.400" height="3.200"/><rect x="39.600" y="15.500" width="4.600" height="3.300"/></g>
<path d="M4,28 H56" stroke="#c9c9c9" stroke-width=".5"/>
<path d="M4,30 V35.500 M7.500,30 V35.500 M11,30 V35.500 M14.500,30 V35.500 M18,30 V35.500 M21.500,30 V35.500 M25,30 V35.500 M28.500,30 V35.500 M32,30 V35.500 M35.500,30 V35.500 M39,30 V35.500 M42.500,30 V35.500" stroke="#b78f8f" stroke-width=".9"/>
<path d="M5,8 H12 M24,8 H38 M46,8 H52" stroke="#bdbdbd" stroke-width=".6"/>
</g>
</defs>
<!-- A1 -->
<path d="M250.6,1201.2 C249.94,1202.11 249.17,1205.2 246.67,1206.67 C244.16,1208.13 239.26,1209.26 235.56,1210 C231.85,1210.74 228.15,1210.37 224.44,1211.11 C220.74,1211.85 217.04,1213.52 213.33,1214.44 C209.63,1215.37 205,1215.63 202.22,1216.67 C199.44,1217.7 197.22,1219.19 196.67,1220.67 C196.11,1222.15 196.85,1224.74 198.89,1225.56 C200.93,1226.37 205.37,1226.11 208.89,1225.56 C212.41,1225 216.67,1223.04 220,1222.22 C223.33,1221.41 226.74,1220.93 228.89,1220.67 C231.04,1220.41 232.22,1220.67 232.89,1220.67" fill="none" stroke="#1d1d1f" stroke-width="1.3" stroke-linecap="round"/>
<path d="M255.8,1199.8 C256.5,1201.5 259,1206.82 260,1210 C261,1213.18 261.96,1216.11 261.78,1218.89 C261.59,1221.67 259.56,1224.26 258.89,1226.67 C258.22,1229.07 257.22,1231.48 257.78,1233.33 C258.33,1235.19 260.37,1236.67 262.22,1237.78 C264.07,1238.89 267.33,1239.63 268.89,1240 C270.44,1240.37 271.11,1240 271.56,1240" fill="none" stroke="#1d1d1f" stroke-width="1.3" stroke-linecap="round"/>
<path d="M261.8,1197.2 C263.35,1199.04 268.26,1204.98 271.11,1208.22 C273.96,1211.47 275.93,1213.96 278.89,1216.67 C281.85,1219.37 286.11,1222.67 288.89,1224.44 C291.67,1226.22 293.63,1226.85 295.56,1227.33 C297.48,1227.81 299.63,1227.33 300.44,1227.33" fill="none" stroke="#1d1d1f" stroke-width="1.3" stroke-linecap="round"/>
<path d="M266.4,1194.4 C268.3,1195.44 273.66,1198.73 277.78,1200.67 C281.9,1202.6 286.67,1204.37 291.11,1206 C295.56,1207.63 300.37,1209.22 304.44,1210.44 C308.52,1211.67 312.41,1212.67 315.56,1213.33 C318.7,1214 322.04,1214.26 323.33,1214.44" fill="none" stroke="#1d1d1f" stroke-width="1.3" stroke-linecap="round"/>
<use href="#unit1" transform="translate(234,1173)"/>
<use href="#gauge" transform="translate(237.8,1225.6) rotate(26.57) scale(0.95)"/>
<use href="#gauge" transform="translate(276,1244.4) rotate(0.82) scale(0.95)"/>
<use href="#gauge" transform="translate(306.7,1233.3) rotate(-14.84) scale(0.93)"/>
<use href="#gauge" transform="translate(331.1,1221.1) rotate(-21.94) scale(0.9)"/>
<!-- A2 -->
<path d="M587.8,1192.7 C587.52,1192.79 587.87,1192.84 586.11,1193.22 C584.35,1193.61 580.78,1194.79 577.22,1195 C573.67,1195.21 567.89,1194.17 564.78,1194.47 C561.67,1194.76 559.98,1195.5 558.56,1196.78 C557.13,1198.05 556.54,1200.63 556.24,1202.11 C555.95,1203.59 556.69,1205.07 556.78,1205.67" fill="none" stroke="#1d1d1f" stroke-width="1.1" stroke-linecap="round"/>
<path d="M593,1191.3 C592.8,1191.62 592.5,1192.01 591.8,1193.22 C591.1,1194.43 589.58,1196.93 588.78,1198.56 C587.98,1200.19 587.15,1201.73 587,1203 C586.85,1204.27 587.74,1205.67 587.89,1206.2" fill="none" stroke="#1d1d1f" stroke-width="1.1" stroke-linecap="round"/>
<path d="M599,1188.7 C599.52,1189.16 600.7,1189.95 602.11,1191.44 C603.52,1192.94 605.37,1195.89 607.44,1197.67 C609.52,1199.44 612.63,1200.78 614.56,1202.11 C616.48,1203.44 618.26,1205.07 619,1205.67" fill="none" stroke="#1d1d1f" stroke-width="1.1" stroke-linecap="round"/>
<path d="M603.6,1185.9 C604.54,1186.23 606.21,1186.96 609.22,1187.89 C612.23,1188.81 617.22,1190.11 621.67,1191.44 C626.11,1192.78 631.74,1194.26 635.89,1195.89 C640.04,1197.52 644.04,1199.59 646.56,1201.22 C649.07,1202.85 650.26,1204.93 651,1205.67" fill="none" stroke="#1d1d1f" stroke-width="1.1" stroke-linecap="round"/>
<use href="#unit1" transform="translate(571.2,1164.5)"/>
<path d="M559.4,1216.6 C559.48,1217.27 560.01,1219.2 559.88,1220.6 C559.75,1222 559.16,1223.43 558.6,1225 C558.04,1226.57 557.38,1228.93 556.51,1230.04 C555.65,1231.14 554.41,1231.3 553.4,1231.65 C552.39,1232 550.92,1232.08 550.43,1232.16" fill="none" stroke="#1d1d1f" stroke-width="1.1" stroke-linecap="round"/>
<use href="#adapt" transform="translate(558.2,1211) scale(0.8)"/>
<use href="#indic" transform="translate(538.1,1234.2) scale(0.85)"/>
<path d="M590.9,1216.6 C590.98,1217.27 591.51,1219.2 591.38,1220.6 C591.25,1222 590.69,1223.43 590.1,1225 C589.51,1226.57 588.75,1228.93 587.81,1230.04 C586.88,1231.14 585.55,1231.3 584.5,1231.65 C583.45,1232 582.02,1232.08 581.53,1232.16" fill="none" stroke="#1d1d1f" stroke-width="1.1" stroke-linecap="round"/>
<use href="#adapt" transform="translate(589.7,1211) scale(0.8)"/>
<use href="#indic" transform="translate(569.2,1234.2) scale(0.85)"/>
<path d="M622.3,1216.1 C622.38,1216.77 622.91,1218.7 622.78,1220.1 C622.65,1221.5 622.09,1222.84 621.5,1224.5 C620.91,1226.16 620.18,1228.84 619.26,1230.04 C618.35,1231.23 617.04,1231.3 616,1231.65 C614.96,1232 613.52,1232.08 613.03,1232.16" fill="none" stroke="#1d1d1f" stroke-width="1.1" stroke-linecap="round"/>
<use href="#adapt" transform="translate(621.1,1210.5) scale(0.8)"/>
<use href="#indic" transform="translate(600.7,1234.2) scale(0.85)"/>
<path d="M654,1216.1 C654.08,1216.77 654.61,1218.7 654.48,1220.1 C654.35,1221.5 653.84,1222.84 653.2,1224.5 C652.56,1226.16 651.68,1228.84 650.66,1230.04 C649.65,1231.23 648.19,1231.3 647.1,1231.65 C646.01,1232 644.62,1232.08 644.12,1232.16" fill="none" stroke="#1d1d1f" stroke-width="1.1" stroke-linecap="round"/>
<use href="#adapt" transform="translate(652.8,1210.5) scale(0.8)"/>
<use href="#indic" transform="translate(631.8,1234.2) scale(0.85)"/>
<!-- A3 -->
<path d="M200.9,1391.78 C200.71,1392.46 201.74,1395.07 199.78,1395.87 C197.81,1396.67 192.96,1396.07 189.11,1396.58 C185.26,1397.08 180.81,1397.91 176.67,1398.89 C172.52,1399.87 167.48,1401.11 164.22,1402.44 C160.96,1403.78 157.7,1405.41 157.11,1406.89 C156.52,1408.37 158.3,1410.74 160.67,1411.33 C163.04,1411.93 167.78,1411.04 171.33,1410.44 C174.89,1409.85 179.33,1408.37 182,1407.78 C184.67,1407.19 186.44,1407.04 187.33,1406.89" fill="none" stroke="#3c3d3f" stroke-width="1" stroke-linecap="round"/>
<path d="M205.7,1390.5 C205.96,1391.75 207.49,1395.56 207.24,1398 C207,1400.44 204.87,1403.04 204.22,1405.11 C203.57,1407.19 202.89,1408.96 203.33,1410.44 C203.78,1411.93 205.26,1413.17 206.89,1414 C208.52,1414.83 212.07,1415.19 213.11,1415.42" fill="none" stroke="#3c3d3f" stroke-width="1" stroke-linecap="round"/>
<path d="M210.43,1389.15 C211.91,1390.33 216.96,1393.56 219.33,1396.22 C221.71,1398.88 223.19,1402.15 224.67,1405.11 C226.15,1408.07 226.89,1411.78 228.22,1414 C229.56,1416.22 231.04,1417.7 232.67,1418.44 C234.3,1419.19 237.11,1418.44 238,1418.44" fill="none" stroke="#3c3d3f" stroke-width="1" stroke-linecap="round"/>
<path d="M214.55,1387.88 C216.53,1388.67 222.68,1390.98 226.44,1392.67 C230.2,1394.35 233.85,1395.33 237.11,1398 C240.37,1400.67 243.63,1405.41 246,1408.67 C248.37,1411.93 249.56,1415.63 251.33,1417.56 C253.11,1419.48 255.42,1419.78 256.67,1420.22 C257.91,1420.67 258.44,1420.22 258.8,1420.22" fill="none" stroke="#3c3d3f" stroke-width="1" stroke-linecap="round"/>
<path d="M220.18,1386.38 C222.7,1387.28 230.44,1390.43 235.33,1391.78 C240.23,1393.12 245.41,1392.81 249.56,1394.44 C253.7,1396.07 256.96,1398.59 260.22,1401.56 C263.48,1404.52 266.74,1409.26 269.11,1412.22 C271.48,1415.19 272.67,1418 274.44,1419.33 C276.22,1420.67 278.89,1420.07 279.78,1420.22" fill="none" stroke="#3c3d3f" stroke-width="1" stroke-linecap="round"/>
<path d="M224.53,1385.17 C227.51,1385.98 237.09,1388.75 242.44,1390 C247.8,1391.25 252.52,1391.04 256.67,1392.67 C260.81,1394.3 265.11,1398.15 267.33,1399.78 C269.56,1401.41 267.78,1402 270,1402.44 C272.22,1402.89 277.41,1402.15 280.67,1402.44 C283.93,1402.74 287.19,1402.59 289.56,1404.22 C291.93,1405.85 293.41,1409.7 294.89,1412.22 C296.37,1414.74 296.96,1417.85 298.44,1419.33 C299.93,1420.81 302.89,1420.81 303.78,1421.11" fill="none" stroke="#3c3d3f" stroke-width="1" stroke-linecap="round"/>
<path d="M228.88,1383.83 C231.73,1384.85 240.78,1388.38 246,1390 C251.22,1391.62 256.67,1392.46 260.22,1393.56 C263.78,1394.65 265.7,1395.84 267.33,1396.58 C268.96,1397.32 267.19,1397.32 270,1398 C272.81,1398.68 278.89,1400.07 284.22,1400.67 C289.56,1401.26 297.26,1401.11 302,1401.56 C306.74,1402 310,1401.85 312.67,1403.33 C315.33,1404.81 316.52,1407.93 318,1410.44 C319.48,1412.96 319.93,1416.67 321.56,1418.44 C323.19,1420.22 326.74,1420.67 327.78,1421.11" fill="none" stroke="#3c3d3f" stroke-width="1" stroke-linecap="round"/>
<path d="M232.93,1382.7 C235.7,1383.71 244.41,1387.33 249.56,1388.76 C254.7,1390.18 260.37,1390.44 263.78,1391.24 C267.19,1392.04 267.19,1392.58 270,1393.56 C272.81,1394.53 276.81,1396.22 280.67,1397.11 C284.52,1398 288.96,1398.89 293.11,1398.89 C297.26,1398.89 301.41,1397.56 305.56,1397.11 C309.7,1396.67 313.85,1396.07 318,1396.22 C322.15,1396.37 326.89,1396.52 330.44,1398 C334,1399.48 336.96,1402.15 339.33,1405.11 C341.7,1408.07 343.19,1413.17 344.67,1415.78 C346.15,1418.39 346.89,1419.87 348.22,1420.76 C349.56,1421.64 351.93,1421.05 352.67,1421.11" fill="none" stroke="#3c3d3f" stroke-width="1" stroke-linecap="round"/>
<use href="#unit2" transform="translate(188,1365) scale(0.75)"/>
<use href="#gauge" transform="translate(191.8,1411.3) rotate(28.84) scale(0.72)"/>
<use href="#gauge" transform="translate(219.3,1420.2) rotate(2.32) scale(0.75)"/>
<use href="#gauge" transform="translate(243.3,1422.9) rotate(-13.24) scale(0.72)"/>
<use href="#gauge" transform="translate(263.8,1424.7) rotate(-23.84) scale(0.7)"/>
<use href="#gauge" transform="translate(286,1424.7) rotate(-20.89) scale(0.7)"/>
<use href="#gauge" transform="translate(311.2,1424.7) rotate(-21.16) scale(0.7)"/>
<use href="#gauge" transform="translate(336.1,1424.7) rotate(-20.08) scale(0.7)"/>
<use href="#gauge" transform="translate(360.7,1424.7) rotate(-20.89) scale(0.7)"/>
<!-- A4 -->
<path d="M551.6,1379.78 C551.41,1380.65 552.12,1383.92 550.44,1385 C548.77,1386.08 544.81,1385.95 541.56,1386.24 C538.3,1386.54 533.56,1386.1 530.89,1386.78 C528.22,1387.46 526.74,1388.85 525.56,1390.33 C524.37,1391.81 524.07,1394.78 523.78,1395.67" fill="none" stroke="#3c3d3f" stroke-width="1" stroke-linecap="round"/>
<path d="M556.4,1378.5 C556.53,1379.73 557.6,1383.92 557.2,1385.89 C556.8,1387.86 554.77,1388.7 554,1390.33 C553.23,1391.96 552.81,1394.78 552.58,1395.67" fill="none" stroke="#3c3d3f" stroke-width="1" stroke-linecap="round"/>
<path d="M561.12,1377.15 C562.46,1378.61 566.74,1383.69 569.11,1385.89 C571.48,1388.09 573.41,1389.15 575.33,1390.33 C577.26,1391.52 579.42,1392.02 580.67,1393 C581.91,1393.98 582.44,1395.67 582.8,1396.2" fill="none" stroke="#3c3d3f" stroke-width="1" stroke-linecap="round"/>
<path d="M565.25,1375.88 C566.93,1377.1 571.88,1381.55 575.33,1383.22 C578.79,1384.89 582.44,1385 586,1385.89 C589.56,1386.78 593.41,1387.61 596.67,1388.56 C599.93,1389.5 603.19,1390.39 605.56,1391.58 C607.93,1392.76 610,1394.99 610.89,1395.67" fill="none" stroke="#3c3d3f" stroke-width="1" stroke-linecap="round"/>
<path d="M570.88,1374.38 C573.1,1375.41 579.33,1379.08 584.22,1380.56 C589.11,1382.03 595.19,1382.19 600.22,1383.22 C605.26,1384.26 611.15,1385.89 614.44,1386.78 C617.74,1387.67 617.59,1388.11 620,1388.56 C622.41,1389 626.37,1388.85 628.89,1389.44 C631.41,1390.04 633.63,1390.99 635.11,1392.11 C636.59,1393.24 637.33,1395.52 637.78,1396.2" fill="none" stroke="#3c3d3f" stroke-width="1" stroke-linecap="round"/>
<path d="M575.23,1373.17 C577.91,1374.26 585.98,1378.29 591.33,1379.67 C596.68,1381.04 602.56,1380.56 607.33,1381.44 C612.11,1382.33 615.52,1384.2 620,1385 C624.48,1385.8 629.48,1385.8 634.22,1386.24 C638.96,1386.69 644,1386.99 648.44,1387.67 C652.89,1388.35 657.93,1388.91 660.89,1390.33 C663.85,1391.76 665.33,1395.22 666.22,1396.2" fill="none" stroke="#3c3d3f" stroke-width="1" stroke-linecap="round"/>
<path d="M579.58,1371.83 C582.42,1372.84 590.86,1376.58 596.67,1377.89 C602.48,1379.2 610.56,1379.07 614.44,1379.67 C618.33,1380.26 616.11,1380.85 620,1381.44 C623.89,1382.04 631.85,1382.33 637.78,1383.22 C643.7,1384.11 649.63,1386.27 655.56,1386.78 C661.48,1387.28 668.3,1386.1 673.33,1386.24 C678.37,1386.39 682.52,1386.69 685.78,1387.67 C689.04,1388.64 691.26,1390.69 692.89,1392.11 C694.52,1393.53 695.11,1395.52 695.56,1396.2" fill="none" stroke="#3c3d3f" stroke-width="1" stroke-linecap="round"/>
<path d="M583.62,1370.7 C585.8,1371.6 590.94,1374.91 596.67,1376.11 C602.4,1377.31 614.11,1377.44 618,1377.89 C621.89,1378.33 616.7,1378.19 620,1378.78 C623.3,1379.37 631.26,1380.41 637.78,1381.44 C644.3,1382.48 652.3,1384.26 659.11,1385 C665.93,1385.74 672.15,1385.59 678.67,1385.89 C685.19,1386.19 692.59,1386.33 698.22,1386.78 C703.85,1387.22 708.59,1387.67 712.44,1388.56 C716.3,1389.44 719.26,1390.84 721.33,1392.11 C723.41,1393.39 724.3,1395.52 724.89,1396.2" fill="none" stroke="#3c3d3f" stroke-width="1" stroke-linecap="round"/>
<use href="#unit2" transform="translate(538.7,1353) scale(0.75)"/>
<path d="M527.48,1406.04 C527.55,1406.64 528.03,1408.38 527.91,1409.64 C527.79,1410.9 527.36,1412.13 526.76,1413.6 C526.16,1415.07 525.29,1417.42 524.34,1418.48 C523.38,1419.54 522.04,1419.63 521.04,1419.96 C520.04,1420.28 518.76,1420.35 518.31,1420.43" fill="none" stroke="#1d1d1f" stroke-width="1" stroke-linecap="round"/>
<use href="#adapt" transform="translate(526.4,1401) scale(0.72)"/>
<use href="#indic" transform="translate(507,1422.3) scale(0.78)"/>
<path d="M556.03,1406.04 C556.1,1406.64 556.58,1408.38 556.46,1409.64 C556.34,1410.9 555.91,1412.13 555.31,1413.6 C554.71,1415.07 553.82,1417.42 552.86,1418.48 C551.9,1419.54 550.55,1419.63 549.54,1419.96 C548.53,1420.28 547.26,1420.35 546.81,1420.43" fill="none" stroke="#1d1d1f" stroke-width="1" stroke-linecap="round"/>
<use href="#adapt" transform="translate(554.95,1401) scale(0.72)"/>
<use href="#indic" transform="translate(535.5,1422.3) scale(0.78)"/>
<path d="M584.58,1406.04 C584.65,1406.64 585.13,1408.38 585.01,1409.64 C584.89,1410.9 584.46,1412.13 583.86,1413.6 C583.26,1415.07 582.36,1417.42 581.38,1418.48 C580.41,1419.54 579.05,1419.63 578.04,1419.96 C577.03,1420.28 575.76,1420.35 575.31,1420.43" fill="none" stroke="#1d1d1f" stroke-width="1" stroke-linecap="round"/>
<use href="#adapt" transform="translate(583.5,1401) scale(0.72)"/>
<use href="#indic" transform="translate(564,1422.3) scale(0.78)"/>
<path d="M613.13,1405.54 C613.2,1406.14 613.68,1407.88 613.56,1409.14 C613.44,1410.4 613.02,1411.54 612.41,1413.1 C611.8,1414.66 610.89,1417.33 609.91,1418.48 C608.93,1419.62 607.56,1419.63 606.54,1419.96 C605.52,1420.28 604.26,1420.35 603.81,1420.43" fill="none" stroke="#1d1d1f" stroke-width="1" stroke-linecap="round"/>
<use href="#adapt" transform="translate(612.05,1400.5) scale(0.72)"/>
<use href="#indic" transform="translate(592.5,1422.3) scale(0.78)"/>
<path d="M641.68,1405.54 C641.75,1406.14 642.23,1407.88 642.11,1409.14 C641.99,1410.4 641.57,1411.54 640.96,1413.1 C640.35,1414.66 639.42,1417.33 638.44,1418.48 C637.45,1419.62 636.06,1419.63 635.04,1419.96 C634.02,1420.28 632.76,1420.35 632.31,1420.43" fill="none" stroke="#1d1d1f" stroke-width="1" stroke-linecap="round"/>
<use href="#adapt" transform="translate(640.6,1400.5) scale(0.72)"/>
<use href="#indic" transform="translate(621,1422.3) scale(0.78)"/>
<path d="M670.23,1405.54 C670.3,1406.14 670.78,1407.88 670.66,1409.14 C670.54,1410.4 670.13,1411.54 669.51,1413.1 C668.89,1414.66 667.96,1417.33 666.96,1418.48 C665.97,1419.62 664.56,1419.63 663.54,1419.96 C662.51,1420.28 661.26,1420.35 660.81,1420.43" fill="none" stroke="#1d1d1f" stroke-width="1" stroke-linecap="round"/>
<use href="#adapt" transform="translate(669.15,1400.5) scale(0.72)"/>
<use href="#indic" transform="translate(649.5,1422.3) scale(0.78)"/>
<path d="M698.78,1405.54 C698.85,1406.14 699.33,1407.88 699.21,1409.14 C699.09,1410.4 698.68,1411.54 698.06,1413.1 C697.44,1414.66 696.49,1417.33 695.49,1418.48 C694.48,1419.62 693.07,1419.63 692.04,1419.96 C691.01,1420.28 689.76,1420.35 689.31,1420.43" fill="none" stroke="#1d1d1f" stroke-width="1" stroke-linecap="round"/>
<use href="#adapt" transform="translate(697.7,1400.5) scale(0.72)"/>
<use href="#indic" transform="translate(678,1422.3) scale(0.78)"/>
<path d="M727.33,1405.54 C727.4,1406.14 727.88,1407.88 727.76,1409.14 C727.64,1410.4 727.24,1411.54 726.61,1413.1 C725.98,1414.66 725.02,1417.33 724.01,1418.48 C723,1419.62 721.57,1419.63 720.54,1419.96 C719.51,1420.28 718.26,1420.35 717.81,1420.43" fill="none" stroke="#1d1d1f" stroke-width="1" stroke-linecap="round"/>
<use href="#adapt" transform="translate(726.25,1400.5) scale(0.72)"/>
<use href="#indic" transform="translate(706.5,1422.3) scale(0.78)"/>
<!-- B1 -->
<path d="M180.56,1653.33 C179.81,1652.78 176.67,1651.67 176.11,1650 C175.56,1648.33 176.11,1645 177.22,1643.33 C178.33,1641.67 180.26,1640.85 182.78,1640 C185.3,1639.15 190.74,1638.52 192.33,1638.22" fill="none" stroke="#1d1d1f" stroke-width="1.5" stroke-linecap="round"/>
<path d="M226.11,1636.67 C228.33,1637.04 233.89,1638.41 239.44,1638.89 C245,1639.37 252.78,1639.74 259.44,1639.56 C266.11,1639.37 272.78,1638.15 279.44,1637.78 C286.11,1637.41 293.15,1637.15 299.44,1637.33 C305.74,1637.52 313.33,1638.52 317.22,1638.89 C321.11,1639.26 321.85,1639.44 322.78,1639.56" fill="none" stroke="#4a4b4d" stroke-width="1.2" stroke-linecap="round"/>
<path d="M212.48,1665.41 C212.16,1666.29 213.1,1669.42 210.56,1670.67 C208.01,1671.91 202.41,1672.15 197.22,1672.89 C192.04,1673.63 185.37,1674.11 179.44,1675.11 C173.52,1676.11 166.85,1677.15 161.67,1678.89 C156.48,1680.63 151.11,1683.52 148.33,1685.56 C145.56,1687.59 144.44,1689.63 145,1691.11 C145.56,1692.59 148.15,1694.26 151.67,1694.44 C155.19,1694.63 161.48,1693.15 166.11,1692.22 C170.74,1691.3 175.74,1689.63 179.44,1688.89 C183.15,1688.15 186.85,1687.96 188.33,1687.78" fill="none" stroke="#1d1d1f" stroke-width="1.5" stroke-linecap="round"/>
<path d="M219.09,1663.64 C219.89,1665.62 222.72,1671.72 223.89,1675.56 C225.06,1679.39 226.3,1683.33 226.11,1686.67 C225.93,1690 223.7,1692.78 222.78,1695.56 C221.85,1698.33 220.19,1700.93 220.56,1703.33 C220.93,1705.74 222.96,1708.33 225,1710 C227.04,1711.67 230.81,1712.78 232.78,1713.33 C234.74,1713.89 236.11,1713.33 236.78,1713.33" fill="none" stroke="#1d1d1f" stroke-width="1.5" stroke-linecap="round"/>
<path d="M226.71,1660.33 C228.64,1662.87 234.73,1671.17 238.33,1675.56 C241.94,1679.94 244.81,1683.52 248.33,1686.67 C251.85,1689.81 255.93,1692.59 259.44,1694.44 C262.96,1696.3 267.04,1697.22 269.44,1697.78 C271.85,1698.33 273.15,1697.78 273.89,1697.78" fill="none" stroke="#1d1d1f" stroke-width="1.5" stroke-linecap="round"/>
<path d="M232.55,1656.78 C234.81,1658.24 240.89,1663.17 246.11,1665.56 C251.33,1667.94 257.96,1669.07 263.89,1671.11 C269.81,1673.15 276.48,1675.93 281.67,1677.78 C286.85,1679.63 291.48,1681.3 295,1682.22 C298.52,1683.15 301.48,1683.15 302.78,1683.33" fill="none" stroke="#1d1d1f" stroke-width="1.5" stroke-linecap="round"/>
<use href="#sideplug" transform="translate(193.5,1650.5) scale(1.27)"/>
<use href="#unit1" transform="translate(191.4,1629.6) scale(1.27)"/>
<use href="#lapA" transform="translate(324.3,1594)"/>
<use href="#gauge" transform="translate(196.8,1695.6) rotate(28.6) scale(1.13)"/>
<use href="#gauge" transform="translate(244.3,1721.1) rotate(1.89) scale(1.17)"/>
<use href="#gauge" transform="translate(282.8,1704.4) rotate(-14.57) scale(1.12)"/>
<use href="#gauge" transform="translate(312.8,1688.9) rotate(-21.77) scale(1.08)"/>
<!-- B2 -->
<path d="M534.44,1646.67 C533.81,1646.11 531.04,1644.81 530.67,1643.33 C530.3,1641.85 531.04,1639.26 532.22,1637.78 C533.41,1636.3 535.74,1635.26 537.78,1634.44 C539.81,1633.63 543.33,1633.15 544.44,1632.89" fill="none" stroke="#1d1d1f" stroke-width="1.4" stroke-linecap="round"/>
<path d="M575.56,1631.11 C577.41,1631.48 581.85,1632.78 586.67,1633.33 C591.48,1633.89 598.52,1634.44 604.44,1634.44 C610.37,1634.44 616.3,1633.59 622.22,1633.33 C628.15,1633.07 634.44,1632.81 640,1632.89 C645.56,1632.96 652.04,1633.52 655.56,1633.78 C659.07,1634.04 660.19,1634.33 661.11,1634.44" fill="none" stroke="#4a4b4d" stroke-width="1.2" stroke-linecap="round"/>
<path d="M562.69,1656.13 C562.24,1657.52 562.67,1662.87 560,1664.44 C557.33,1666.02 551.11,1665.26 546.67,1665.56 C542.22,1665.85 536.85,1665.3 533.33,1666.22 C529.81,1667.15 527.22,1669.19 525.56,1671.11 C523.89,1673.04 523.7,1676.67 523.33,1677.78" fill="none" stroke="#1d1d1f" stroke-width="1.4" stroke-linecap="round"/>
<path d="M568.67,1654.52 C568.71,1656.36 569.41,1662.79 568.89,1665.56 C568.37,1668.32 566.48,1669.07 565.56,1671.11 C564.63,1673.15 563.7,1676.67 563.33,1677.78" fill="none" stroke="#1d1d1f" stroke-width="1.4" stroke-linecap="round"/>
<path d="M575.57,1651.53 C576.86,1653.68 580.74,1661.18 583.33,1664.44 C585.92,1667.71 588.52,1669.26 591.11,1671.11 C593.7,1672.96 597.04,1674.26 598.89,1675.56 C600.74,1676.85 601.67,1678.33 602.22,1678.89" fill="none" stroke="#1d1d1f" stroke-width="1.4" stroke-linecap="round"/>
<path d="M580.86,1648.31 C582.57,1649.7 586.81,1654.35 591.11,1656.67 C595.41,1658.99 601.48,1660.19 606.67,1662.22 C611.85,1664.26 617.41,1666.67 622.22,1668.89 C627.04,1671.11 632.41,1673.89 635.56,1675.56 C638.7,1677.22 640.19,1678.33 641.11,1678.89" fill="none" stroke="#1d1d1f" stroke-width="1.4" stroke-linecap="round"/>
<use href="#sideplug" transform="translate(546,1644.5) scale(1.15)"/>
<use href="#unit1" transform="translate(543.6,1623.7) scale(1.15)"/>
<use href="#lapA" transform="translate(661,1593.3) scale(0.89)"/>
<path d="M528.6,1691.4 C528.7,1692.23 529.37,1694.65 529.2,1696.4 C529.03,1698.15 528.45,1699.9 527.6,1701.9 C526.75,1703.9 525.52,1707 524.1,1708.4 C522.68,1709.8 520.52,1709.88 519.1,1710.3 C517.68,1710.72 516.18,1710.8 515.6,1710.9" fill="none" stroke="#1d1d1f" stroke-width="1.4" stroke-linecap="round"/>
<use href="#adapt" transform="translate(527.1,1684.4)"/>
<use href="#indic" transform="translate(501.1,1713.3)"/>
<path d="M567.1,1691.4 C567.2,1692.23 567.87,1694.65 567.7,1696.4 C567.53,1698.15 566.92,1699.9 566.1,1701.9 C565.28,1703.9 564.15,1707 562.8,1708.4 C561.45,1709.8 559.38,1709.88 558,1710.3 C556.62,1710.72 555.08,1710.8 554.5,1710.9" fill="none" stroke="#1d1d1f" stroke-width="1.4" stroke-linecap="round"/>
<use href="#adapt" transform="translate(565.6,1684.4)"/>
<use href="#indic" transform="translate(540,1713.3)"/>
<path d="M605.9,1691.4 C606,1692.23 606.67,1694.65 606.5,1696.4 C606.33,1698.15 605.71,1699.9 604.9,1701.9 C604.09,1703.9 602.98,1707 601.65,1708.4 C600.32,1709.8 598.27,1709.88 596.9,1710.3 C595.52,1710.72 593.98,1710.8 593.4,1710.9" fill="none" stroke="#1d1d1f" stroke-width="1.4" stroke-linecap="round"/>
<use href="#adapt" transform="translate(604.4,1684.4)"/>
<use href="#indic" transform="translate(578.9,1713.3)"/>
<path d="M644.8,1691.4 C644.9,1692.23 645.57,1694.65 645.4,1696.4 C645.23,1698.15 644.65,1699.9 643.8,1701.9 C642.95,1703.9 641.72,1707 640.3,1708.4 C638.88,1709.8 636.72,1709.88 635.3,1710.3 C633.88,1710.72 632.38,1710.8 631.8,1710.9" fill="none" stroke="#1d1d1f" stroke-width="1.4" stroke-linecap="round"/>
<use href="#adapt" transform="translate(643.3,1684.4)"/>
<use href="#indic" transform="translate(617.3,1713.3)"/>
<!-- B3 -->
<path d="M173,1900 C172.33,1899.5 169.5,1898.5 169,1897 C168.5,1895.5 168.83,1892.5 170,1891 C171.17,1889.5 173.83,1888.67 176,1888 C178.17,1887.33 181.83,1887.17 183,1887" fill="none" stroke="#1d1d1f" stroke-width="1.4" stroke-linecap="round"/>
<path d="M240,1882 C242.33,1882 249,1882.17 254,1882 C259,1881.83 268,1881.17 270,1881 C272,1880.83 264,1881.23 266,1881 C268,1880.77 277.33,1879.77 282,1879.6 C286.67,1879.43 290.33,1879.77 294,1880 C297.67,1880.23 302.33,1880.83 304,1881" fill="none" stroke="#4a4b4d" stroke-width="1.2" stroke-linecap="round"/>
<path d="M200.2,1910.7 C199.83,1911.92 200.7,1916.62 198,1918 C195.3,1919.38 189.33,1918.5 184,1919 C178.67,1919.5 171.67,1919.83 166,1921 C160.33,1922.17 154,1924.33 150,1926 C146,1927.67 143,1929.33 142,1931 C141,1932.67 142,1935.17 144,1936 C146,1936.83 150,1936.67 154,1936 C158,1935.33 164.17,1932.83 168,1932 C171.83,1931.17 174.83,1931 177,1931 C179.17,1931 180.33,1931.83 181,1932" fill="none" stroke="#1d1d1f" stroke-width="1.3" stroke-linecap="round"/>
<path d="M206.6,1909 C206.67,1911.17 207.27,1918.67 207,1922 C206.73,1925.33 205.67,1926.83 205,1929 C204.33,1931.17 202.67,1933.17 203,1935 C203.33,1936.83 205.33,1938.67 207,1940 C208.67,1941.33 211.33,1942.4 213,1943 C214.67,1943.6 216.33,1943.5 217,1943.6" fill="none" stroke="#1d1d1f" stroke-width="1.3" stroke-linecap="round"/>
<path d="M212.9,1907.2 C214.75,1909.33 220.82,1915.87 224,1920 C227.18,1924.13 229.67,1928.17 232,1932 C234.33,1935.83 236.17,1940.5 238,1943 C239.83,1945.5 241.17,1946.23 243,1947 C244.83,1947.77 248,1947.5 249,1947.6" fill="none" stroke="#3c3d3f" stroke-width="1.3" stroke-linecap="round"/>
<path d="M218.4,1905.5 C221,1907.25 228.73,1913.25 234,1916 C239.27,1918.75 246.33,1920 250,1922 C253.67,1924 254,1925.33 256,1928 C258,1930.67 260.17,1934.83 262,1938 C263.83,1941.17 265.33,1945 267,1947 C268.67,1949 270.5,1949.5 272,1950 C273.5,1950.5 275.33,1950 276,1950" fill="none" stroke="#3c3d3f" stroke-width="1.3" stroke-linecap="round"/>
<path d="M225.9,1903.5 C228.58,1904.92 237.98,1910.25 242,1912 C246.02,1913.75 246.67,1913 250,1914 C253.33,1915 257.67,1915.67 262,1918 C266.33,1920.33 271.67,1924 276,1928 C280.33,1932 284.67,1938.5 288,1942 C291.33,1945.5 293.5,1947.67 296,1949 C298.5,1950.33 301.83,1949.83 303,1950" fill="none" stroke="#3c3d3f" stroke-width="1.3" stroke-linecap="round"/>
<path d="M231.7,1901.9 C234.75,1903.42 244.28,1908.98 250,1911 C255.72,1913.02 260,1912.5 266,1914 C272,1915.5 279.33,1918.33 286,1920 C292.67,1921.67 300.67,1922.33 306,1924 C311.33,1925.67 314.67,1927 318,1930 C321.33,1933 323.67,1938.83 326,1942 C328.33,1945.17 330.17,1947.67 332,1949 C333.83,1950.33 336.17,1949.83 337,1950" fill="none" stroke="#3c3d3f" stroke-width="1.3" stroke-linecap="round"/>
<path d="M237.5,1900.1 C239.58,1901.58 244.58,1907.35 250,1909 C255.42,1910.65 263.33,1908.83 270,1910 C276.67,1911.17 283.33,1913.83 290,1916 C296.67,1918.17 303.33,1921.5 310,1923 C316.67,1924.5 324,1924.5 330,1925 C336,1925.5 342,1924.5 346,1926 C350,1927.5 351.67,1930.67 354,1934 C356.33,1937.33 358.17,1943.4 360,1946 C361.83,1948.6 363.4,1948.93 365,1949.6 C366.6,1950.27 368.83,1949.93 369.6,1950" fill="none" stroke="#3c3d3f" stroke-width="1.3" stroke-linecap="round"/>
<path d="M242.9,1898.6 C244.08,1900.17 244.82,1906.1 250,1908 C255.18,1909.9 266.67,1908.83 274,1910 C281.33,1911.17 287.33,1913.17 294,1915 C300.67,1916.83 307.33,1920 314,1921 C320.67,1922 328,1921.5 334,1921 C340,1920.5 344.67,1918.33 350,1918 C355.33,1917.67 361,1917.67 366,1919 C371,1920.33 376.33,1922.83 380,1926 C383.67,1929.17 385.83,1934.33 388,1938 C390.17,1941.67 391.17,1946 393,1948 C394.83,1950 397.5,1949.67 399,1950 C400.5,1950.33 401.5,1950 402,1950" fill="none" stroke="#3c3d3f" stroke-width="1.3" stroke-linecap="round"/>
<use href="#sideplug" transform="translate(185,1898.5) scale(1.05)"/>
<use href="#unit2" transform="translate(183,1875)"/>
<use href="#lapB" transform="translate(307.3,1840.8) scale(0.86)"/>
<use href="#gauge" transform="translate(187,1938) rotate(30.26) scale(0.98)"/>
<use href="#gauge" transform="translate(223,1950) rotate(1.91) scale(1.03)"/>
<use href="#gauge" transform="translate(256,1954) rotate(-15.07) scale(0.96)"/>
<use href="#gauge" transform="translate(284,1956) rotate(-20.56) scale(0.94)"/>
<use href="#gauge" transform="translate(312,1956) rotate(-22.62) scale(0.94)"/>
<use href="#gauge" transform="translate(345,1956) rotate(-22.62) scale(0.94)"/>
<use href="#gauge" transform="translate(377.6,1956) rotate(-23.43) scale(0.94)"/>
<use href="#gauge" transform="translate(410,1956) rotate(-22.62) scale(0.94)"/>
<!-- B4 -->
<path d="M523,1891 C522.33,1890.5 519.5,1889.33 519,1888 C518.5,1886.67 519,1884.33 520,1883 C521,1881.67 523,1880.67 525,1880 C527,1879.33 530.83,1879.17 532,1879" fill="none" stroke="#1d1d1f" stroke-width="1.3" stroke-linecap="round"/>
<path d="M584,1874 C586.5,1873.83 594.67,1873.07 599,1873 C603.33,1872.93 606.17,1873.6 610,1873.6 C613.83,1873.6 618,1873.27 622,1873 C626,1872.73 630.5,1872 634,1872 C637.5,1872 641.5,1872.83 643,1873" fill="none" stroke="#4a4b4d" stroke-width="1.2" stroke-linecap="round"/>
<path d="M547.28,1900.13 C546.9,1901.28 547.38,1905.62 545,1907 C542.62,1908.38 537,1908.07 533,1908.4 C529,1908.73 524.17,1908.07 521,1909 C517.83,1909.93 515.33,1912.17 514,1914 C512.67,1915.83 513.17,1919 513,1920" fill="none" stroke="#1d1d1f" stroke-width="1.2" stroke-linecap="round"/>
<path d="M553.04,1898.6 C553.2,1900.17 554.51,1905.43 554,1908 C553.49,1910.57 551,1912 550,1914 C549,1916 548.33,1919 548,1920" fill="none" stroke="#1d1d1f" stroke-width="1.2" stroke-linecap="round"/>
<path d="M558.71,1896.98 C560.26,1898.82 564.95,1905 568,1908 C571.05,1911 574.33,1913.17 577,1915 C579.67,1916.83 582.5,1918.1 584,1919 C585.5,1919.9 585.67,1920.17 586,1920.4" fill="none" stroke="#3c3d3f" stroke-width="1.2" stroke-linecap="round"/>
<path d="M563.66,1895.45 C565.88,1896.88 572.11,1901.74 577,1904 C581.89,1906.26 588,1907.33 593,1909 C598,1910.67 603.5,1912.83 607,1914 C610.5,1915.17 612.17,1915 614,1916 C615.83,1917 617.33,1919.33 618,1920" fill="none" stroke="#3c3d3f" stroke-width="1.2" stroke-linecap="round"/>
<path d="M570.41,1893.65 C573.17,1894.88 580.9,1899.11 587,1901 C593.1,1902.89 603.17,1903.83 607,1905 C610.83,1906.17 607.5,1907.33 610,1908 C612.5,1908.67 617.33,1908.5 622,1909 C626.67,1909.5 633.67,1910 638,1911 C642.33,1912 645.5,1913.5 648,1915 C650.5,1916.5 652.17,1919.17 653,1920" fill="none" stroke="#3c3d3f" stroke-width="1.2" stroke-linecap="round"/>
<path d="M575.63,1892.21 C579.52,1893.17 593.27,1896.2 599,1898 C604.73,1899.8 605.5,1902 610,1903 C614.5,1904 620,1903 626,1904 C632,1905 639.67,1907.67 646,1909 C652.33,1910.33 658.67,1911.17 664,1912 C669.33,1912.83 674.33,1913.17 678,1914 C681.67,1914.83 684.17,1915.93 686,1917 C687.83,1918.07 688.5,1919.83 689,1920.4" fill="none" stroke="#3c3d3f" stroke-width="1.2" stroke-linecap="round"/>
<path d="M580.85,1890.59 C584.54,1891.66 598.14,1895.43 603,1897 C607.86,1898.57 605.5,1899.23 610,1900 C614.5,1900.77 622.67,1900.27 630,1901.6 C637.33,1902.93 646.33,1906.7 654,1908 C661.67,1909.3 669,1909.33 676,1909.4 C683,1909.47 690.33,1908.13 696,1908.4 C701.67,1908.67 706.17,1909.73 710,1911 C713.83,1912.27 716.67,1914.43 719,1916 C721.33,1917.57 723.17,1919.67 724,1920.4" fill="none" stroke="#3c3d3f" stroke-width="1.2" stroke-linecap="round"/>
<path d="M585.71,1889.24 C588.92,1890.2 600.95,1893.54 605,1895 C609.05,1896.46 605.83,1897.23 610,1898 C614.17,1898.77 621.67,1898.17 630,1899.6 C638.33,1901.03 651.67,1905.1 660,1906.6 C668.33,1908.1 673.33,1908.53 680,1908.6 C686.67,1908.67 693,1907.1 700,1907 C707,1906.9 715.33,1907.5 722,1908 C728.67,1908.5 735,1909 740,1910 C745,1911 748.83,1912.33 752,1914 C755.17,1915.67 757.83,1919 759,1920" fill="none" stroke="#3c3d3f" stroke-width="1.2" stroke-linecap="round"/>
<use href="#sideplug" transform="translate(533,1889) scale(0.95)"/>
<use href="#unit2" transform="translate(531.8,1868) scale(0.9)"/>
<use href="#lapB" transform="translate(645.5,1836) scale(0.83)"/>
<path d="M517.27,1931.95 C517.36,1932.66 517.93,1934.71 517.78,1936.2 C517.64,1937.69 517.22,1938.99 516.42,1940.88 C515.63,1942.76 514.32,1946.1 513.01,1947.49 C511.7,1948.89 509.84,1948.86 508.56,1949.24 C507.28,1949.62 505.88,1949.7 505.34,1949.79" fill="none" stroke="#1d1d1f" stroke-width="1.2" stroke-linecap="round"/>
<use href="#adapt" transform="translate(516,1926) scale(0.85)"/>
<use href="#indic" transform="translate(492,1952) scale(0.92)"/>
<path d="M552.27,1931.95 C552.36,1932.66 552.93,1934.71 552.78,1936.2 C552.64,1937.69 552.22,1938.99 551.42,1940.88 C550.63,1942.76 549.32,1946.1 548.01,1947.49 C546.7,1948.89 544.84,1948.86 543.56,1949.24 C542.28,1949.62 540.88,1949.7 540.34,1949.79" fill="none" stroke="#1d1d1f" stroke-width="1.2" stroke-linecap="round"/>
<use href="#adapt" transform="translate(551,1926) scale(0.85)"/>
<use href="#indic" transform="translate(527,1952) scale(0.92)"/>
<path d="M587.88,1931.95 C587.96,1932.66 588.53,1934.71 588.38,1936.2 C588.24,1937.69 587.87,1938.99 587.02,1940.88 C586.18,1942.76 584.72,1946.1 583.31,1947.49 C581.9,1948.89 579.89,1948.86 578.56,1949.24 C577.23,1949.62 575.88,1949.7 575.34,1949.79" fill="none" stroke="#1d1d1f" stroke-width="1.2" stroke-linecap="round"/>
<use href="#adapt" transform="translate(586.6,1926) scale(0.85)"/>
<use href="#indic" transform="translate(562,1952) scale(0.92)"/>
<path d="M623.27,1931.95 C623.36,1932.66 623.93,1934.71 623.78,1936.2 C623.64,1937.69 623.27,1938.99 622.42,1940.88 C621.58,1942.76 620.12,1946.1 618.71,1947.49 C617.3,1948.89 615.29,1948.86 613.96,1949.24 C612.63,1949.62 611.28,1949.7 610.74,1949.79" fill="none" stroke="#1d1d1f" stroke-width="1.2" stroke-linecap="round"/>
<use href="#adapt" transform="translate(622,1926) scale(0.85)"/>
<use href="#indic" transform="translate(597.4,1952) scale(0.92)"/>
<path d="M657.67,1931.95 C657.76,1932.66 658.33,1934.71 658.18,1936.2 C658.04,1937.69 657.62,1938.99 656.82,1940.88 C656.03,1942.76 654.72,1946.1 653.41,1947.49 C652.1,1948.89 650.24,1948.86 648.96,1949.24 C647.68,1949.62 646.28,1949.7 645.74,1949.79" fill="none" stroke="#1d1d1f" stroke-width="1.2" stroke-linecap="round"/>
<use href="#adapt" transform="translate(656.4,1926) scale(0.85)"/>
<use href="#indic" transform="translate(632.4,1952) scale(0.92)"/>
<path d="M692.88,1931.95 C692.96,1932.66 693.53,1934.71 693.38,1936.2 C693.24,1937.69 692.82,1938.99 692.02,1940.88 C691.23,1942.76 689.92,1946.1 688.61,1947.49 C687.3,1948.89 685.44,1948.86 684.16,1949.24 C682.88,1949.62 681.48,1949.7 680.94,1949.79" fill="none" stroke="#1d1d1f" stroke-width="1.2" stroke-linecap="round"/>
<use href="#adapt" transform="translate(691.6,1926) scale(0.85)"/>
<use href="#indic" transform="translate(667.6,1952) scale(0.92)"/>
<path d="M728.27,1931.95 C728.36,1932.66 728.93,1934.71 728.78,1936.2 C728.64,1937.69 728.25,1938.99 727.42,1940.88 C726.6,1942.76 725.19,1946.1 723.81,1947.49 C722.43,1948.89 720.47,1948.86 719.16,1949.24 C717.85,1949.62 716.48,1949.7 715.94,1949.79" fill="none" stroke="#1d1d1f" stroke-width="1.2" stroke-linecap="round"/>
<use href="#adapt" transform="translate(727,1926) scale(0.85)"/>
<use href="#indic" transform="translate(702.6,1952) scale(0.92)"/>
<path d="M763.67,1931.95 C763.76,1932.66 764.33,1934.71 764.18,1936.2 C764.04,1937.69 763.65,1938.99 762.82,1940.88 C762,1942.76 760.58,1946.1 759.21,1947.49 C757.83,1948.89 755.87,1948.86 754.56,1949.24 C753.25,1949.62 751.88,1949.7 751.34,1949.79" fill="none" stroke="#1d1d1f" stroke-width="1.2" stroke-linecap="round"/>
<use href="#adapt" transform="translate(762.4,1926) scale(0.85)"/>
<use href="#indic" transform="translate(738,1952) scale(0.92)"/>
</svg>
<!-- feature bullets -->
<ul class="feat">
<li>Can be connected with <b>7107-11</b>, <b>7107-12</b>, <b>7107-11V</b> or <b>7107-12V</b> linear gauges, can also be connected with<br>digital indicators(data cable <b>7309-C01M</b> is needed)</li>
<li>To connect more than 4 linear gauges or digital indicators, need to purchase the connection box (code: <b>7133-2</b>),<br>and one display unit can be connected with up to 14 connection boxes</li>
<li>Set tolerance and make judgment (out of tolerance, within tolerance), output the judgment to control outside devices,<br>control from outside (set zero, hold reading and collect data)</li>
<li>Software of display unit (included): in the software, it is possible to set tolerance and show judgment (red when out of tolerance,<br>green when within tolerance), set zero, collect data manually or automatically (time is adjustable), output data to Excel, print report</li>
</ul>

<h2 style="top:721.1px">DISPLAY UNIT SPECIFICATION</h2>
<table class="spec" style="top:737px">
<tr style="height:16px"><th><div style="position:relative;top:-0.1px">Code</div></th><td><div style="position:relative;top:-0.7px"><b>7133-1</b></div></td></tr>
<tr style="height:16.5px"><th><div style="position:relative;top:-1.0px">Display</div></th><td><div style="position:relative;top:-1.0px">6 digits</div></td></tr>
<tr style="height:33.5px"><th><div style="position:relative;top:-0.8px;line-height:12.3px">Quantity of linear gauges or digital<br>indicators to be connected</div></th><td><div style="position:relative;top:-1.8px">4 pcs</div></td></tr>
<tr style="height:33.5px"><th><div style="position:relative;top:-0.7px">Tolerance</div></th><td><div style="position:relative;top:-1.6px">set tolerance and make judgment with lights<br>(out of tolerance, within tolerance)</div></td></tr>
<tr style="height:33.5px"><th><div style="position:relative;top:-1.6px">Output control</div></th><td><div style="position:relative;top:-0.9px">output the tolerance judgment (out of tolerance,<br>within tolerance) to control outside devices</div></td></tr>
<tr style="height:33.5px"><th><div style="position:relative;top:-0.8px">Outside control</div></th><td><div style="position:relative;top:-0.2px;line-height:16.5px">control the display units from outside (set zero,<br>hold reading and collect data)</div></td></tr>
<tr style="height:37px"><th><div style="position:relative;top:-2.1px">Data output</div></th><td><div style="position:relative;top:-0.8px;line-height:12.8px">connect to computer software and serial<br>communication</div></td></tr>
<tr style="height:17px"><th><div style="position:relative;top:-2.8px">Power supply</div></th><td><div style="position:relative;top:-1.0px">DC 9~24V</div></td></tr>
</table>

<h2 style="top:976.9px;letter-spacing:.3px">CONNECTION BOX (OPTIONAL) SPECIFICATION</h2>
<table class="spec" style="top:992.5px">
<tr style="height:16px"><th><div style="position:relative;top:-0.4px">Code</div></th><td><div style="position:relative;top:-0.6px"><b>7133-2</b></div></td></tr>
<tr style="height:33.5px"><th><div style="position:relative;top:0.0px">Quantity of linear gauges or digital<br>indicators to be connected</div></th><td><div style="position:relative;top:-0.8px">4 pcs</div></td></tr>
</table>
</body>
</html>
